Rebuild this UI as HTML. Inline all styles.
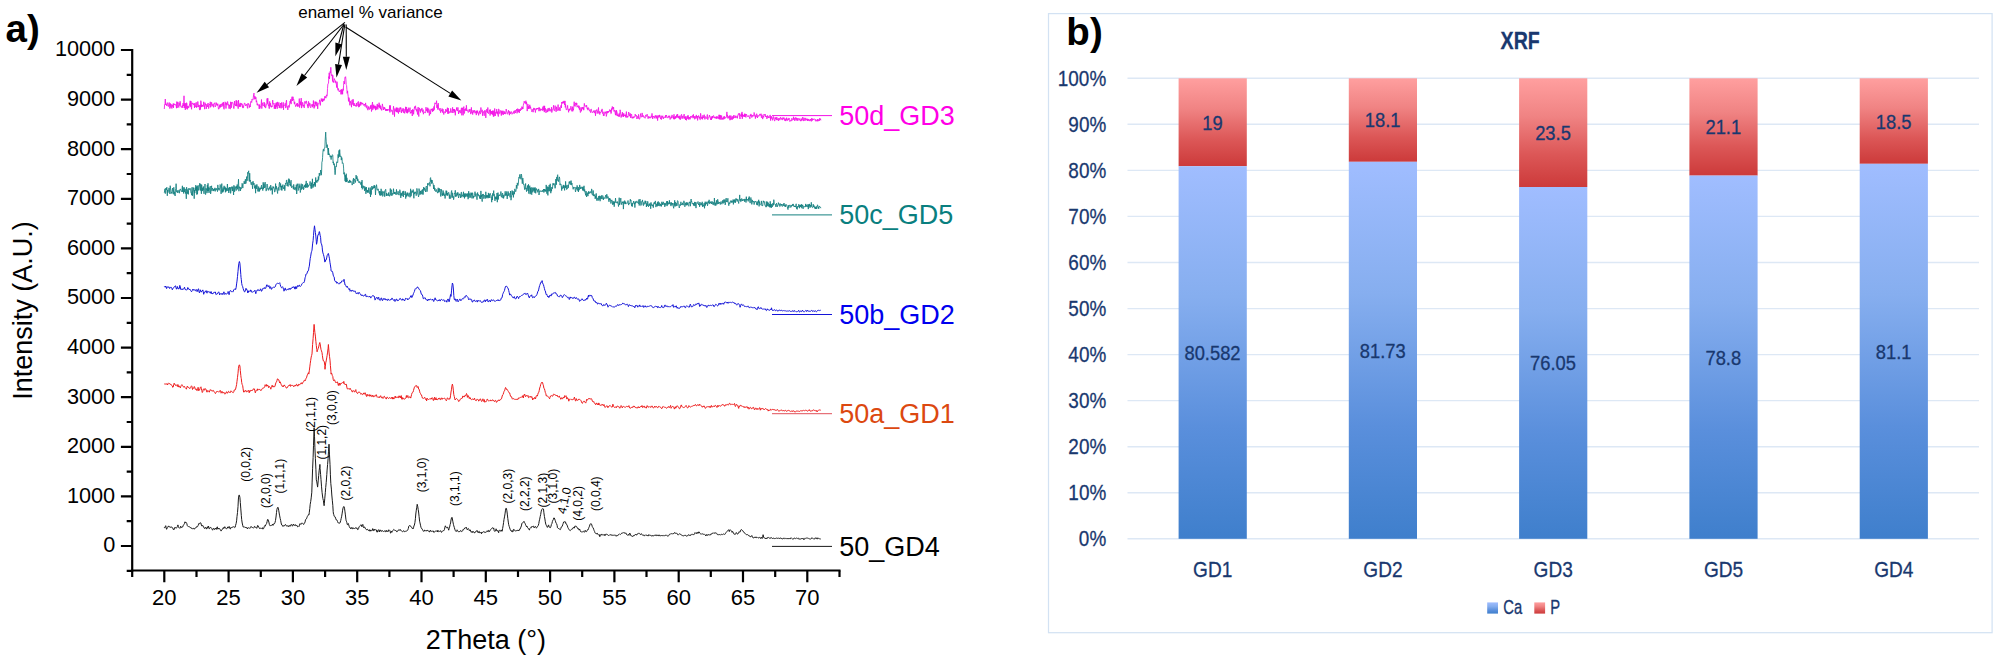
<!DOCTYPE html>
<html lang="en">
<head>
<meta charset="utf-8">
<title>XRD and XRF figure</title>
<style>html,body{margin:0;padding:0;background:#fff;}body{width:1998px;height:661px;overflow:hidden;}svg{display:block;}</style>
</head>
<body>
<svg width="1998" height="661" viewBox="0 0 1998 661" role="img" aria-label="XRD patterns and XRF composition chart">
<defs><linearGradient id="gb" x1="0" y1="0" x2="0" y2="1"><stop offset="0" stop-color="#a0bdff"/><stop offset="0.35" stop-color="#86aeef"/><stop offset="0.7" stop-color="#5a8fdc"/><stop offset="1" stop-color="#3f7fcc"/></linearGradient><linearGradient id="gr" x1="0" y1="0" x2="0" y2="1"><stop offset="0" stop-color="#ff9f9f"/><stop offset="0.35" stop-color="#f08383"/><stop offset="0.7" stop-color="#dc5757"/><stop offset="1" stop-color="#cc3a3a"/></linearGradient></defs>
<rect x="0" y="0" width="1998" height="661" fill="#ffffff"/>
<g id="panel-a" font-family="'Liberation Sans', Arial, sans-serif" fill="#000">
<text x="5.6" y="41.9" font-size="38.5" font-weight="bold">a)</text>
<g stroke="#000" stroke-width="2.2" fill="none" stroke-linecap="butt">
<path d="M132.2 49 V571.5"/>
<path d="M131.2 570.5 H840.5"/>
<path d="M132.2 570.8H126.7M132.2 546.0H120.9M132.2 521.2H126.7M132.2 496.4H120.9M132.2 471.6H126.7M132.2 446.8H120.9M132.2 422.0H126.7M132.2 397.2H120.9M132.2 372.4H126.7M132.2 347.6H120.9M132.2 322.8H126.7M132.2 298.0H120.9M132.2 273.2H126.7M132.2 248.4H120.9M132.2 223.6H126.7M132.2 198.8H120.9M132.2 174.0H126.7M132.2 149.2H120.9M132.2 124.4H126.7M132.2 99.6H120.9M132.2 74.8H126.7M132.2 50.0H120.9M132.2 570.5V576.9M164.3 570.5V582.3M196.5 570.5V576.9M228.6 570.5V582.3M260.8 570.5V576.9M292.9 570.5V582.3M325.1 570.5V576.9M357.2 570.5V582.3M389.4 570.5V576.9M421.5 570.5V582.3M453.6 570.5V576.9M485.8 570.5V582.3M518.0 570.5V576.9M550.1 570.5V582.3M582.2 570.5V576.9M614.4 570.5V582.3M646.5 570.5V576.9M678.7 570.5V582.3M710.8 570.5V576.9M743.0 570.5V582.3M775.2 570.5V576.9M807.3 570.5V582.3M839.5 570.5V576.9"/>
</g>
<g font-size="21.7" text-anchor="end">
<text x="115.2" y="552.4">0</text>
<text x="115.2" y="502.8">1000</text>
<text x="115.2" y="453.2">2000</text>
<text x="115.2" y="403.6">3000</text>
<text x="115.2" y="354.0">4000</text>
<text x="115.2" y="304.4">5000</text>
<text x="115.2" y="254.8">6000</text>
<text x="115.2" y="205.2">7000</text>
<text x="115.2" y="155.6">8000</text>
<text x="115.2" y="106.0">9000</text>
<text x="115.2" y="56.4">10000</text>
</g>
<g font-size="22" text-anchor="middle">
<text x="164.3" y="604.5">20</text>
<text x="228.6" y="604.5">25</text>
<text x="292.9" y="604.5">30</text>
<text x="357.2" y="604.5">35</text>
<text x="421.5" y="604.5">40</text>
<text x="485.8" y="604.5">45</text>
<text x="550.1" y="604.5">50</text>
<text x="614.4" y="604.5">55</text>
<text x="678.7" y="604.5">60</text>
<text x="743.0" y="604.5">65</text>
<text x="807.3" y="604.5">70</text>
</g>
<text transform="translate(31.7 310.5) rotate(-90)" font-size="27" text-anchor="middle">Intensity (A.U.)</text>
<text x="485.8" y="649.3" font-size="27" text-anchor="middle">2Theta (°)</text>
<text x="298.2" y="18" font-size="17">enamel % variance</text>
<path d="M344.9 22.4L266.9 84.6" stroke="#000" stroke-width="1.1" fill="none"/><path d="M256.6 92.8L264.7 81.8L269.1 87.3Z" fill="#000"/>
<path d="M344.2 24.0L304.5 75.5" stroke="#000" stroke-width="1.1" fill="none"/><path d="M296.4 85.9L301.7 73.3L307.2 77.6Z" fill="#000"/>
<path d="M343.8 24.5L338.8 43.5" stroke="#000" stroke-width="1.1" fill="none"/><path d="M335.4 56.3L335.4 42.6L342.2 44.4Z" fill="#000"/>
<path d="M344.8 24.5L338.5 64.5" stroke="#000" stroke-width="1.1" fill="none"/><path d="M336.5 77.5L335.1 63.9L342.0 65.0Z" fill="#000"/>
<path d="M346.2 24.5L346.3 56.8" stroke="#000" stroke-width="1.1" fill="none"/><path d="M346.3 70.0L342.8 56.8L349.8 56.8Z" fill="#000"/>
<path d="M345.6 27.0L450.3 93.4" stroke="#000" stroke-width="1.1" fill="none"/><path d="M461.4 100.5L448.4 96.4L452.1 90.5Z" fill="#000"/>
<g fill="none" stroke-linejoin="round" stroke-width="1">
<polyline stroke="#f312e6" stroke-width="0.85" points="164.3,109.0 164.6,104.3 165.0,103.9 165.3,99.0 165.6,105.0 165.9,104.3 166.3,103.8 166.6,105.7 166.9,106.0 167.3,102.6 167.6,103.0 167.9,103.9 168.2,106.6 168.6,106.3 168.9,104.6 169.2,102.5 169.6,106.7 169.9,108.6 170.2,105.0 170.5,103.5 170.9,107.5 171.2,104.3 171.5,106.7 171.9,108.5 172.2,106.5 172.5,105.2 172.8,106.7 173.2,103.6 173.5,107.9 173.8,103.7 174.2,104.6 174.5,103.9 174.8,104.6 175.1,104.2 175.5,105.2 175.8,105.2 176.1,105.3 176.5,108.2 176.8,101.6 177.1,108.0 177.4,104.5 177.8,101.9 178.1,104.7 178.4,105.3 178.8,107.5 179.1,102.7 179.4,105.6 179.7,105.3 180.1,101.3 180.4,102.4 180.7,106.4 181.0,106.6 181.4,107.5 181.7,106.3 182.0,106.0 182.4,105.4 182.7,107.8 183.0,103.2 183.3,104.8 183.7,106.0 184.0,95.8 184.3,108.0 184.7,103.3 185.0,104.9 185.3,109.9 185.6,103.2 186.0,103.9 186.3,108.6 186.6,102.7 187.0,104.1 187.3,109.4 187.6,106.1 187.9,106.4 188.3,105.9 188.6,108.1 188.9,107.4 189.3,106.4 189.6,103.6 189.9,103.5 190.2,100.8 190.6,106.7 190.9,101.0 191.2,107.1 191.6,109.3 191.9,102.7 192.2,103.6 192.5,104.1 192.9,103.1 193.2,103.2 193.5,104.8 193.9,104.0 194.2,104.6 194.5,108.0 194.8,103.0 195.2,105.3 195.5,105.7 195.8,107.1 196.2,102.3 196.5,107.6 196.8,106.1 197.1,107.1 197.5,105.3 197.8,101.5 198.1,103.7 198.5,107.0 198.8,105.2 199.1,105.0 199.4,109.1 199.8,110.1 200.1,105.1 200.4,109.5 200.8,100.7 201.1,102.0 201.4,107.1 201.7,104.6 202.1,106.5 202.4,106.3 202.7,105.0 203.1,106.7 203.4,105.5 203.7,101.8 204.0,105.7 204.4,105.6 204.7,109.2 205.0,102.7 205.4,105.2 205.7,104.2 206.0,104.9 206.3,108.9 206.7,106.0 207.0,104.2 207.3,105.5 207.7,106.9 208.0,103.0 208.3,104.6 208.6,108.6 209.0,107.1 209.3,105.1 209.6,104.1 209.9,104.9 210.3,101.8 210.6,107.3 210.9,106.0 211.3,105.5 211.6,102.3 211.9,103.6 212.2,106.3 212.6,105.8 212.9,104.1 213.2,105.1 213.6,107.3 213.9,103.7 214.2,104.0 214.5,103.6 214.9,102.7 215.2,107.0 215.5,106.3 215.9,106.0 216.2,102.6 216.5,102.9 216.8,105.1 217.2,104.3 217.5,105.5 217.8,103.7 218.2,106.7 218.5,109.2 218.8,108.6 219.1,108.8 219.5,105.4 219.8,107.3 220.1,104.4 220.5,107.3 220.8,104.4 221.1,104.2 221.4,103.8 221.8,106.8 222.1,105.9 222.4,105.7 222.8,102.8 223.1,105.6 223.4,102.1 223.7,108.5 224.1,109.3 224.4,105.7 224.7,105.0 225.1,101.8 225.4,102.3 225.7,105.2 226.0,108.5 226.4,102.8 226.7,103.7 227.0,105.2 227.4,101.6 227.7,101.6 228.0,104.4 228.3,105.2 228.7,104.4 229.0,108.6 229.3,104.9 229.7,106.1 230.0,108.8 230.3,109.0 230.6,101.8 231.0,104.5 231.3,107.8 231.6,102.3 232.0,103.3 232.3,102.4 232.6,102.3 232.9,102.8 233.3,105.7 233.6,108.0 233.9,108.6 234.3,105.3 234.6,101.0 234.9,105.1 235.2,104.5 235.6,106.0 235.9,105.0 236.2,100.2 236.6,106.2 236.9,100.8 237.2,103.8 237.5,105.9 237.9,106.0 238.2,108.7 238.5,100.1 238.9,106.0 239.2,106.8 239.5,104.5 239.8,106.6 240.2,102.9 240.5,106.7 240.8,106.4 241.1,103.1 241.5,103.8 241.8,104.8 242.1,103.8 242.5,107.5 242.8,105.6 243.1,108.1 243.4,107.8 243.8,105.3 244.1,104.8 244.4,103.1 244.8,103.4 245.1,103.4 245.4,105.9 245.7,105.2 246.1,105.3 246.4,105.5 246.7,104.0 247.1,104.6 247.4,108.1 247.7,108.4 248.0,103.2 248.4,104.4 248.7,103.9 249.0,103.9 249.4,107.6 249.7,105.5 250.0,106.3 250.3,107.0 250.7,101.6 251.0,101.5 251.3,101.2 251.7,102.5 252.0,99.2 252.3,99.9 252.6,100.2 253.0,99.5 253.3,97.5 253.6,94.7 254.0,93.1 254.3,99.3 254.6,98.5 254.9,96.2 255.3,98.0 255.6,99.0 255.9,97.3 256.3,102.2 256.6,100.7 256.9,102.4 257.2,105.1 257.6,103.7 257.9,105.4 258.2,105.4 258.6,104.7 258.9,104.9 259.2,108.9 259.5,104.6 259.9,108.5 260.2,106.4 260.5,106.7 260.9,105.5 261.2,103.6 261.5,99.5 261.8,108.6 262.2,102.7 262.5,103.2 262.8,105.5 263.2,105.4 263.5,105.8 263.8,104.7 264.1,102.1 264.5,107.1 264.8,103.4 265.1,105.8 265.5,108.0 265.8,107.8 266.1,104.8 266.4,104.7 266.8,104.8 267.1,98.5 267.4,103.7 267.8,98.2 268.1,102.9 268.4,105.7 268.7,104.7 269.1,108.7 269.4,108.5 269.7,101.4 270.0,105.6 270.4,103.2 270.7,106.5 271.0,105.7 271.4,107.3 271.7,106.0 272.0,107.0 272.3,104.7 272.7,100.1 273.0,102.9 273.3,103.6 273.7,104.3 274.0,103.2 274.3,108.8 274.6,105.0 275.0,108.1 275.3,104.7 275.6,108.9 276.0,102.8 276.3,106.7 276.6,102.6 276.9,106.3 277.3,108.7 277.6,101.9 277.9,103.5 278.3,105.9 278.6,105.0 278.9,102.5 279.2,107.8 279.6,105.5 279.9,108.1 280.2,106.1 280.6,103.0 280.9,104.4 281.2,108.3 281.5,102.5 281.9,104.4 282.2,106.6 282.5,107.5 282.9,107.1 283.2,102.3 283.5,109.8 283.8,105.0 284.2,105.4 284.5,105.4 284.8,104.9 285.2,103.3 285.5,104.6 285.8,108.1 286.1,102.5 286.5,100.2 286.8,106.4 287.1,106.0 287.5,106.8 287.8,109.9 288.1,107.4 288.4,105.5 288.8,106.1 289.1,107.5 289.4,106.9 289.8,102.7 290.1,101.1 290.4,102.9 290.7,99.3 291.1,104.1 291.4,99.9 291.7,98.9 292.1,96.7 292.4,101.0 292.7,98.1 293.0,96.8 293.4,99.6 293.7,99.0 294.0,101.5 294.4,104.1 294.7,101.8 295.0,104.3 295.3,104.8 295.7,106.7 296.0,105.9 296.3,105.0 296.7,103.7 297.0,105.7 297.3,103.0 297.6,106.6 298.0,105.4 298.3,106.4 298.6,104.2 299.0,103.6 299.3,98.6 299.6,107.6 299.9,104.9 300.3,104.8 300.6,101.6 300.9,105.2 301.2,98.1 301.6,108.1 301.9,104.8 302.2,105.4 302.6,102.3 302.9,103.0 303.2,106.5 303.5,104.9 303.9,106.2 304.2,107.9 304.5,106.6 304.9,101.3 305.2,103.0 305.5,102.9 305.8,103.4 306.2,100.9 306.5,101.0 306.8,103.7 307.2,104.0 307.5,106.3 307.8,104.5 308.1,108.1 308.5,101.4 308.8,102.3 309.1,105.7 309.5,104.6 309.8,103.1 310.1,106.7 310.4,107.4 310.8,107.8 311.1,104.3 311.4,105.1 311.8,105.6 312.1,105.2 312.4,107.2 312.7,104.1 313.1,105.8 313.4,100.5 313.7,106.6 314.1,108.4 314.4,105.0 314.7,107.2 315.0,101.6 315.4,104.3 315.7,101.8 316.0,105.6 316.3,106.1 316.7,101.9 317.0,102.7 317.3,103.0 317.7,108.9 318.0,103.6 318.3,103.7 318.7,104.0 319.0,103.6 319.3,102.3 319.6,99.8 320.0,100.9 320.3,105.4 320.6,102.3 321.0,100.8 321.3,98.5 321.6,101.0 321.9,100.9 322.4,99.1 322.6,102.0 322.9,98.6 323.3,99.0 323.6,100.6 323.9,98.9 324.2,100.3 324.6,97.1 324.9,96.2 325.2,97.6 325.6,96.7 325.9,98.2 326.2,96.2 326.5,94.8 326.9,96.3 327.2,95.3 327.5,88.5 327.9,83.8 328.2,83.5 328.5,83.4 328.8,76.6 329.0,78.2 329.2,72.8 329.5,79.0 329.8,75.3 330.1,71.5 330.6,72.8 330.8,67.3 331.1,73.1 331.5,74.9 331.8,75.9 332.1,74.6 332.6,81.3 332.8,75.3 333.1,82.2 333.4,81.0 333.8,82.6 334.1,80.2 334.4,78.6 334.7,80.0 335.1,80.2 335.4,82.6 335.7,80.9 336.1,83.5 336.4,84.6 336.7,87.6 337.0,81.7 337.4,85.9 337.7,89.2 338.1,90.4 338.4,88.5 338.7,89.8 339.0,90.9 339.3,92.0 339.7,91.4 339.9,91.7 340.3,90.2 340.7,91.2 341.0,94.4 341.3,89.2 341.6,92.6 342.0,94.2 342.3,90.2 342.6,94.2 342.9,88.8 343.3,90.4 343.6,85.2 343.9,81.2 344.3,82.0 344.6,84.0 344.9,77.3 345.3,77.5 345.6,76.7 345.9,79.3 346.2,84.5 346.6,85.6 346.9,89.5 347.2,93.4 347.6,90.9 347.8,93.7 348.2,96.4 348.5,101.4 348.9,97.6 349.2,98.2 349.5,101.0 349.9,105.3 350.2,100.9 350.5,102.9 350.8,102.5 351.2,104.1 351.5,107.2 351.8,100.5 352.2,99.8 352.5,103.6 352.8,104.6 353.1,99.2 353.5,102.6 353.8,105.9 354.1,103.1 354.5,105.3 354.8,104.9 355.0,106.0 355.4,105.4 355.8,104.9 356.1,106.7 356.4,103.0 356.8,104.2 357.1,106.1 357.4,102.6 357.7,102.8 358.1,101.9 358.4,101.4 358.7,107.2 359.1,104.0 359.4,106.6 359.7,104.2 360.0,102.8 360.4,101.9 360.7,105.5 361.1,102.1 361.3,104.2 361.7,103.5 362.0,103.3 362.3,104.2 362.7,103.0 363.0,103.3 363.3,105.1 363.6,105.4 364.0,104.4 364.3,104.8 364.6,104.0 365.0,106.5 365.3,105.5 365.6,102.9 365.9,105.6 366.3,107.7 366.6,107.3 366.9,105.3 367.1,108.6 367.3,108.4 367.6,108.4 367.9,110.2 368.2,106.5 368.6,108.4 368.9,106.7 369.2,109.2 369.6,109.5 369.9,108.2 370.2,108.7 370.5,105.6 370.9,108.5 371.2,104.9 371.5,111.5 371.9,109.5 372.2,104.2 372.5,102.0 372.8,109.8 373.2,105.6 373.5,108.3 373.8,104.7 374.2,107.4 374.5,106.0 374.8,108.5 375.1,106.6 375.5,110.2 375.8,105.8 376.1,109.8 376.5,107.3 376.8,108.4 377.1,104.2 377.4,103.9 377.8,109.4 378.1,105.0 378.4,106.7 378.8,106.8 379.1,102.7 379.4,107.8 379.7,104.6 380.1,105.1 380.4,109.2 380.7,105.9 381.1,108.9 381.4,108.8 381.7,110.4 382.0,108.4 382.4,103.9 382.7,106.2 383.0,106.7 383.4,110.0 383.7,108.5 384.0,107.0 384.3,108.9 384.7,107.5 385.0,109.4 385.3,108.8 385.7,110.8 386.0,109.4 386.3,110.8 386.6,109.0 387.0,110.5 387.3,109.0 387.6,110.7 388.0,110.0 388.3,109.4 388.6,109.0 389.0,109.5 389.3,110.9 389.6,105.5 389.9,112.4 390.3,105.4 390.6,109.7 390.9,109.4 391.2,111.5 391.6,110.5 391.9,110.0 392.2,110.3 392.5,112.0 392.9,114.7 393.2,110.9 393.5,106.2 393.9,109.4 394.2,111.0 394.5,116.6 394.8,108.7 395.2,109.5 395.5,111.3 395.8,110.9 396.2,107.7 396.5,112.1 396.8,107.7 397.1,109.8 397.5,112.3 397.8,107.8 398.1,109.7 398.5,113.6 398.8,109.9 399.1,108.4 399.4,109.3 399.8,112.0 400.1,107.4 400.4,109.2 400.8,107.6 401.1,108.2 401.4,113.0 401.7,110.3 402.1,109.7 402.4,111.3 402.7,109.2 403.1,108.2 403.4,112.8 403.7,112.3 404.0,108.9 404.4,112.0 404.7,113.4 405.0,111.6 405.4,111.6 405.7,106.8 406.0,110.4 406.3,107.1 406.7,112.8 407.0,110.4 407.3,113.3 407.7,109.2 408.0,112.4 408.3,107.7 408.6,108.2 409.0,111.8 409.3,111.5 409.6,110.7 410.0,107.6 410.3,113.4 410.6,112.1 410.9,113.0 411.3,113.0 411.6,110.1 411.9,111.6 412.3,116.0 412.6,109.3 412.9,111.7 413.2,109.9 413.6,114.3 413.9,111.3 414.2,109.0 414.6,106.7 414.9,108.3 415.2,106.6 415.5,105.8 415.9,109.6 416.2,108.9 416.5,111.3 416.9,109.5 417.2,111.5 417.5,114.5 417.8,108.8 418.2,107.1 418.5,113.0 418.8,116.5 419.0,109.5 419.5,107.9 419.8,110.6 420.1,110.4 420.5,112.5 420.8,109.1 421.1,110.7 421.4,110.1 421.8,108.1 422.1,108.1 422.4,112.0 422.8,112.2 423.1,109.6 423.4,114.2 423.7,113.0 424.1,112.1 424.4,112.3 424.7,111.8 425.1,112.6 425.4,112.8 425.7,111.3 426.0,107.2 426.4,110.8 426.7,109.5 427.0,108.9 427.4,112.3 427.7,107.7 428.0,112.7 428.3,109.9 428.7,108.7 429.0,109.4 429.3,115.5 429.7,113.8 430.0,110.4 430.3,112.9 430.6,114.1 431.0,108.9 431.3,109.8 431.6,109.2 432.0,110.5 432.3,108.5 432.6,111.8 432.9,109.0 433.3,108.7 433.6,111.0 433.9,106.5 434.3,109.7 434.6,104.4 434.9,102.8 435.2,102.9 435.6,104.1 435.9,103.8 436.2,103.6 436.6,100.7 436.9,107.9 437.2,104.7 437.5,107.5 437.9,109.7 438.2,103.1 438.5,108.2 438.9,108.2 439.2,109.4 439.5,110.4 439.8,108.7 440.2,108.1 440.5,112.7 440.8,112.4 441.2,110.2 441.5,110.9 441.8,109.9 442.1,108.5 442.5,112.5 442.8,110.0 443.1,109.2 443.5,113.1 443.8,114.5 444.1,112.2 444.4,111.9 444.8,111.6 445.1,113.1 445.4,112.9 445.8,109.0 446.1,111.0 446.4,110.3 446.7,111.9 447.1,111.4 447.4,107.7 447.7,113.7 448.1,112.0 448.4,108.2 448.7,113.7 449.0,111.8 449.4,112.5 449.7,111.6 450.0,111.9 450.4,112.5 450.7,108.4 451.0,110.0 451.3,111.9 451.7,111.7 452.0,112.8 452.3,111.4 452.6,107.3 453.0,113.0 453.3,110.1 453.6,109.1 454.0,111.0 454.3,109.0 454.6,112.3 454.9,109.8 455.3,115.3 455.6,111.1 455.9,110.5 456.3,110.4 456.6,107.5 456.9,110.0 457.2,110.2 457.6,111.0 457.9,107.4 458.2,110.5 458.6,114.0 458.9,110.7 459.2,111.4 459.5,112.3 459.9,110.0 460.2,110.6 460.5,113.2 460.9,112.8 461.2,108.9 461.5,107.8 461.8,115.3 462.2,111.7 462.5,107.8 462.8,110.9 463.2,115.3 463.5,110.5 463.8,106.6 464.1,113.3 464.5,113.4 464.8,109.1 465.1,110.6 465.5,108.8 465.8,108.4 466.1,110.7 466.4,105.3 466.8,110.9 467.1,109.8 467.4,110.6 467.8,111.0 468.1,112.4 468.4,112.4 468.7,111.6 469.1,109.4 469.4,111.6 469.7,109.7 470.1,109.0 470.4,111.8 470.7,114.1 471.0,113.5 471.4,107.4 471.7,112.6 472.0,112.9 472.4,111.9 472.7,114.6 473.0,110.2 473.3,112.5 473.7,111.3 474.0,112.0 474.3,110.2 474.7,111.8 475.0,113.3 475.3,112.3 475.6,112.8 476.0,110.7 476.3,115.1 476.6,110.9 477.0,112.2 477.3,113.3 477.6,110.6 477.9,112.7 478.3,112.6 478.6,115.4 478.9,113.2 479.3,113.0 479.6,110.8 479.9,112.8 480.2,114.1 480.6,113.0 480.9,107.5 481.2,111.3 481.5,111.9 481.9,112.3 482.2,109.8 482.5,115.7 482.9,112.1 483.2,112.5 483.5,111.5 483.8,112.2 484.2,115.8 484.5,110.6 484.8,111.4 485.2,110.4 485.5,111.3 485.8,117.9 486.1,111.2 486.5,111.5 486.8,109.1 487.1,111.7 487.5,112.8 487.8,107.5 488.1,111.7 488.4,113.8 488.8,113.4 489.1,112.2 489.4,111.0 489.8,109.7 490.1,115.5 490.4,109.6 490.7,113.6 491.1,112.1 491.4,111.1 491.7,114.1 492.1,111.1 492.4,114.7 492.7,110.6 493.0,113.4 493.4,116.6 493.7,110.7 494.0,116.3 494.4,114.0 494.7,108.5 495.0,115.0 495.3,116.0 495.7,112.1 496.0,112.2 496.3,113.2 496.7,109.1 497.0,112.8 497.3,114.2 497.6,111.6 498.0,114.7 498.3,116.5 498.6,109.0 499.0,109.3 499.3,111.3 499.6,113.7 500.0,113.3 500.3,110.9 500.6,110.5 500.9,111.2 501.3,115.6 501.6,110.8 501.9,111.4 502.2,114.2 502.6,112.0 502.9,110.7 503.2,115.0 503.6,113.0 503.9,111.2 504.2,111.7 504.5,114.0 504.9,111.7 505.2,112.8 505.5,113.9 505.9,114.1 506.2,109.0 506.5,111.4 506.8,111.6 507.2,112.4 507.5,113.6 507.8,114.3 508.2,111.4 508.5,110.2 508.8,112.5 509.1,111.1 509.5,115.2 509.8,112.0 510.1,112.2 510.5,113.8 510.8,112.2 511.1,111.4 511.4,111.7 511.8,113.1 512.0,114.3 512.4,113.3 512.7,113.2 513.1,112.3 513.4,112.5 513.7,111.4 514.1,113.8 514.4,110.6 514.7,111.6 515.0,112.1 515.4,113.0 515.7,110.3 516.0,111.1 516.4,110.0 516.7,109.1 517.0,113.3 517.3,112.1 517.7,108.6 518.0,109.5 518.3,112.1 518.7,109.9 519.0,109.0 519.3,112.9 519.6,109.7 520.0,109.7 520.3,111.0 520.6,108.5 521.0,109.4 521.3,109.2 521.6,109.7 521.9,106.6 522.3,109.1 522.6,107.2 522.9,109.0 523.3,105.5 523.6,103.5 523.9,102.8 524.2,101.2 524.6,102.6 524.9,102.1 525.2,103.6 525.6,102.2 525.9,100.7 526.2,104.3 526.5,102.1 526.9,103.9 527.2,111.1 527.5,106.9 527.9,104.1 528.2,105.8 528.5,109.0 528.8,106.2 529.2,108.7 529.5,106.4 529.8,104.8 530.2,108.4 530.5,106.7 530.8,108.3 531.1,108.9 531.5,110.5 531.8,111.8 532.1,111.2 532.5,110.4 532.8,109.3 533.1,112.2 533.4,110.4 533.8,107.9 534.1,109.8 534.4,109.6 534.8,108.2 535.1,110.3 535.4,112.5 535.7,109.4 536.1,109.8 536.4,109.8 536.7,108.1 537.1,109.0 537.4,108.0 537.7,109.2 538.0,108.3 538.4,107.7 538.7,109.5 539.0,111.2 539.4,107.5 539.7,109.7 540.0,110.7 540.3,110.9 540.7,108.7 541.0,109.6 541.3,109.9 541.6,109.2 542.0,109.0 542.3,110.7 542.6,107.7 543.0,106.6 543.3,108.9 543.6,110.3 543.9,105.8 544.3,112.1 544.6,105.9 544.9,110.8 545.3,108.3 545.6,109.7 545.9,112.9 546.2,112.4 546.6,110.9 546.9,109.3 547.2,109.6 547.6,112.1 547.9,108.6 548.2,108.2 548.5,109.5 548.9,111.3 549.2,107.9 549.5,110.4 549.9,110.4 550.2,110.0 550.5,109.5 550.8,111.3 551.2,110.7 551.5,107.2 551.8,112.5 552.2,110.5 552.5,110.3 552.8,109.1 553.1,109.2 553.5,105.3 553.8,109.3 554.1,110.7 554.5,110.7 554.8,108.5 555.1,105.6 555.4,107.7 555.8,109.0 556.1,111.8 556.4,106.8 556.8,109.6 557.1,110.5 557.4,110.5 557.7,109.3 558.1,104.6 558.4,110.4 558.7,109.5 559.1,110.1 559.4,107.4 559.7,107.9 560.0,111.0 560.4,107.8 560.7,107.4 561.0,105.4 561.4,108.0 561.7,102.0 562.0,102.9 562.3,103.5 562.7,101.8 563.0,102.7 563.3,101.5 563.7,103.3 564.0,100.9 564.3,101.8 564.6,105.0 565.0,100.9 565.3,107.4 565.6,104.4 566.0,108.7 566.3,109.9 566.6,109.8 566.9,108.8 567.3,107.7 567.6,105.4 567.9,109.7 568.3,110.3 568.6,112.3 568.9,108.9 569.2,110.5 569.6,108.8 569.9,110.2 570.2,108.9 570.6,109.1 570.9,106.2 571.2,108.1 571.5,109.0 571.9,111.3 572.2,109.5 572.5,106.7 572.8,111.3 573.2,108.9 573.5,109.9 573.8,106.1 574.2,101.7 574.5,105.6 574.8,104.7 575.1,106.5 575.5,103.0 575.8,103.7 576.1,102.7 576.5,105.1 576.8,103.2 577.0,107.2 577.4,106.5 577.8,106.9 578.1,105.5 578.4,106.7 578.8,108.2 579.1,105.8 579.4,109.7 579.7,107.9 580.1,110.5 580.4,112.5 580.7,111.5 581.1,107.2 581.4,111.2 581.7,108.7 582.0,108.5 582.4,108.7 582.7,107.0 583.0,109.2 583.4,107.4 583.7,110.2 584.0,108.6 584.3,103.4 584.7,105.8 585.0,105.5 585.3,105.8 585.7,105.7 586.0,107.1 586.3,106.6 586.6,105.2 587.0,108.0 587.3,109.1 587.6,107.9 588.0,110.2 588.3,107.6 588.6,108.1 588.9,108.7 589.3,109.7 589.6,110.9 589.9,110.5 590.3,112.1 590.6,112.6 590.9,109.2 591.2,109.0 591.6,110.9 591.9,111.9 592.2,112.8 592.6,112.4 592.9,112.4 593.2,111.6 593.5,112.1 593.9,110.5 594.2,112.3 594.5,113.1 594.9,110.6 595.2,111.3 595.5,115.8 595.8,110.6 596.2,111.0 596.5,110.1 596.8,109.5 597.2,113.6 597.5,110.9 597.8,111.0 598.1,110.7 598.5,107.5 598.8,113.4 599.1,111.2 599.5,112.1 599.8,114.5 600.1,112.0 600.4,112.5 600.8,112.6 601.1,111.8 601.4,110.2 601.7,111.5 602.1,108.9 602.4,112.5 602.7,113.6 603.1,111.8 603.4,115.8 603.7,114.2 604.0,115.8 604.4,112.9 604.7,113.2 605.0,111.7 605.4,113.2 605.7,113.2 606.0,111.8 606.3,116.4 606.7,114.5 607.0,111.1 607.3,113.2 607.7,112.1 608.0,111.0 608.3,112.6 608.6,111.1 609.0,111.5 609.3,111.4 609.6,109.7 610.0,109.6 610.3,111.6 610.6,110.1 610.9,113.7 611.3,113.3 611.6,108.5 611.9,110.2 612.3,106.5 612.6,108.9 612.9,108.7 613.2,109.1 613.6,107.1 613.9,111.4 614.2,111.5 614.6,110.2 615.0,111.8 615.2,113.6 615.5,115.0 615.9,110.5 616.2,115.5 616.5,110.3 616.9,112.0 617.2,112.8 617.5,116.1 617.8,114.7 618.2,114.8 618.5,116.5 618.8,114.4 619.2,113.4 619.5,116.6 619.8,113.9 620.1,109.8 620.5,111.6 620.8,114.7 621.1,117.5 621.5,115.7 621.8,114.6 622.1,116.5 622.4,112.2 622.8,115.4 623.1,113.8 623.4,117.0 623.8,113.4 624.1,116.1 624.4,115.2 624.7,114.9 625.1,116.0 625.4,114.7 625.7,117.3 626.1,114.7 626.4,111.6 626.7,117.4 627.0,117.3 627.4,116.0 627.7,117.4 628.0,117.0 628.4,113.9 628.7,112.0 629.0,113.7 629.3,114.9 629.7,116.2 630.0,113.2 630.3,114.0 630.7,117.9 631.0,114.4 631.3,114.4 631.6,114.1 632.0,118.2 632.3,116.9 632.6,117.1 632.9,118.4 633.3,117.3 633.6,118.0 633.9,116.4 634.3,117.3 634.6,116.9 634.9,117.1 635.2,114.1 635.6,115.7 635.9,115.5 636.2,115.0 636.6,116.0 636.9,119.0 637.2,117.7 637.5,116.4 637.9,116.8 638.2,118.5 638.5,114.4 638.9,117.0 639.2,119.0 639.5,119.3 640.0,117.9 640.2,117.3 640.5,113.6 640.8,115.3 641.2,116.4 641.5,117.1 641.8,117.1 642.1,112.9 642.5,115.6 642.8,116.9 643.1,115.3 643.5,116.1 643.8,117.3 644.1,117.0 644.4,116.8 644.8,117.7 645.1,118.3 645.4,116.1 645.8,114.9 646.1,115.4 646.4,115.8 646.7,116.5 647.1,114.2 647.4,115.3 647.7,116.2 648.1,118.7 648.4,117.4 648.7,116.3 649.0,118.0 649.4,116.9 649.7,116.9 650.0,118.3 650.4,117.1 650.7,116.8 651.0,117.7 651.3,115.8 651.7,116.7 652.0,113.4 652.3,116.0 652.7,119.0 653.0,116.1 653.3,116.6 653.6,116.0 654.0,117.6 654.3,117.4 654.6,116.6 655.0,118.4 655.3,115.3 655.6,116.7 655.9,116.2 656.3,115.8 656.6,118.4 656.9,115.6 657.3,115.6 657.6,120.6 657.9,116.6 658.2,116.4 658.6,117.4 658.9,115.2 659.2,117.3 659.6,114.9 659.9,116.0 660.2,115.9 660.5,118.8 660.9,117.7 661.2,119.6 661.5,119.4 661.8,115.7 662.2,117.6 662.5,116.1 662.8,115.8 663.2,118.6 663.5,119.0 663.8,117.0 664.1,117.3 664.5,117.3 664.8,117.3 665.1,117.4 665.5,115.3 665.8,117.8 666.1,115.8 666.4,115.0 666.8,116.6 667.1,117.3 667.4,118.1 667.8,117.4 668.1,117.3 668.4,115.8 668.7,117.5 669.1,117.2 669.4,117.3 669.7,115.7 670.1,119.5 670.4,118.0 670.7,117.9 671.0,117.0 671.4,116.5 671.7,118.3 672.0,114.9 672.4,116.2 672.7,116.5 673.0,117.8 673.3,116.4 673.7,119.1 674.0,114.3 674.3,119.3 674.7,117.4 675.0,118.4 675.3,116.2 675.6,118.5 676.0,116.5 676.3,117.3 676.6,114.7 677.0,117.8 677.3,117.2 677.6,114.1 677.9,116.8 678.3,116.5 678.6,118.2 678.9,116.0 679.3,117.3 679.6,118.9 679.9,115.7 680.2,119.8 680.6,117.4 680.9,116.7 681.2,114.9 681.6,114.3 681.9,118.5 682.2,116.3 682.5,116.1 682.9,118.6 683.2,118.1 683.5,117.2 683.9,114.8 684.2,114.1 684.5,118.5 684.8,117.0 685.2,116.7 685.5,120.0 685.8,116.4 686.2,117.6 686.5,120.3 686.8,118.0 687.1,116.3 687.5,115.8 687.8,118.9 688.1,115.3 688.5,118.4 688.8,119.6 689.1,117.0 689.4,118.4 689.8,117.3 690.1,119.3 690.4,117.6 690.8,116.1 691.1,117.7 691.4,117.4 691.7,116.3 692.1,116.8 692.4,115.4 692.7,115.9 693.0,118.2 693.4,114.4 693.7,117.6 694.0,117.2 694.4,116.3 694.7,119.3 695.0,118.3 695.3,116.3 695.7,117.5 696.0,118.6 696.3,114.9 696.7,117.6 697.0,116.9 697.3,116.0 697.6,120.4 698.0,116.3 698.3,116.8 698.6,115.5 699.0,117.6 699.3,118.2 699.6,116.8 699.9,119.5 700.3,119.7 700.6,113.3 700.9,115.1 701.3,118.0 701.6,117.5 701.9,119.1 702.2,116.9 702.6,119.3 702.9,115.3 703.2,118.0 703.6,116.7 703.9,116.7 704.2,114.7 704.5,116.8 704.9,119.4 705.2,116.4 705.5,117.1 705.9,117.6 706.2,118.6 706.5,117.8 706.8,118.2 707.2,114.5 707.5,114.7 707.8,119.7 708.2,117.5 708.5,117.4 708.8,117.1 709.1,116.6 709.5,115.0 709.8,117.4 710.1,117.7 710.5,118.9 710.8,119.9 711.1,116.4 711.4,119.9 711.8,117.6 712.1,118.4 712.4,116.0 712.8,118.0 713.1,116.1 713.4,115.5 713.7,115.7 714.1,117.6 714.4,116.9 714.7,118.1 715.1,117.9 715.4,117.8 715.7,116.8 716.0,118.8 716.4,118.4 716.7,116.4 717.0,118.7 717.4,116.6 717.7,117.7 718.0,117.4 718.3,117.4 718.7,118.7 719.0,114.8 719.3,119.3 719.7,114.9 720.0,119.2 720.3,118.2 720.6,115.2 721.0,119.8 721.3,116.9 721.6,115.6 721.9,119.1 722.3,118.9 722.6,117.9 722.9,119.7 723.3,117.5 723.6,116.9 723.9,119.2 724.2,116.1 724.6,118.4 724.9,118.8 725.2,117.5 725.6,117.3 725.9,117.8 726.2,117.5 726.5,116.1 726.9,111.9 727.2,116.3 727.5,114.9 727.9,118.4 728.2,116.3 728.5,117.3 728.8,118.1 729.2,118.4 729.5,115.6 729.8,120.1 730.2,120.1 730.5,117.8 730.8,115.5 731.1,119.8 731.5,117.8 731.8,118.4 732.1,116.3 732.5,119.5 732.8,118.9 733.1,116.6 733.4,118.5 733.8,115.1 734.1,117.9 734.4,117.6 734.8,117.6 735.1,115.6 735.4,116.0 735.7,117.9 736.1,118.0 736.4,116.4 736.7,116.1 737.1,115.7 737.4,118.3 737.7,116.1 738.0,115.5 738.4,113.6 738.7,113.7 739.0,114.6 739.4,113.3 739.7,117.1 740.0,119.0 740.3,114.7 740.7,115.5 741.0,115.9 741.3,113.5 741.7,116.8 742.0,111.9 742.3,118.8 742.6,113.9 743.0,116.0 743.3,115.4 743.6,116.5 744.0,114.9 744.3,116.7 744.6,113.7 744.9,117.0 745.3,113.9 745.6,116.4 745.9,117.4 746.3,114.2 746.6,115.0 746.9,114.8 747.2,115.7 747.6,116.1 747.9,116.9 748.2,116.1 748.6,115.6 748.9,116.6 749.2,117.3 749.5,117.2 749.9,118.8 750.2,114.9 750.5,116.1 750.9,113.9 751.2,114.8 751.5,116.6 751.8,117.5 752.2,115.0 752.5,116.4 752.8,115.8 753.1,116.4 753.5,116.0 753.8,115.0 754.1,112.5 754.5,113.6 754.8,116.2 755.1,115.5 755.4,118.6 755.8,115.7 756.1,116.9 756.4,114.0 756.8,113.7 757.1,115.9 757.4,118.0 757.7,116.2 758.1,115.2 758.4,116.2 758.7,116.5 759.1,116.2 759.4,115.6 759.7,114.1 760.0,114.0 760.4,114.8 760.7,115.4 761.0,113.7 761.4,117.7 761.7,116.3 762.0,114.8 762.3,116.7 762.7,119.1 763.0,116.1 763.3,116.2 763.7,117.4 764.0,114.2 764.3,115.3 764.6,115.1 765.0,114.4 765.3,114.1 765.6,116.9 766.0,115.9 766.3,116.3 766.6,116.0 766.9,118.9 767.3,115.7 767.6,115.4 767.9,117.5 768.3,116.4 768.6,118.0 768.9,117.3 769.2,117.5 769.6,117.6 769.9,115.3 770.2,114.9 770.6,120.6 770.9,116.3 771.2,118.7 771.5,116.5 771.9,118.0 772.2,118.2 772.5,120.3 772.9,118.1 773.2,116.4 773.5,116.6 773.8,119.1 774.2,119.7 774.5,120.9 774.8,121.1 775.0,117.5 775.5,118.9 775.8,117.5 776.1,119.9 776.5,119.9 776.8,117.1 777.1,119.9 777.5,119.8 777.8,118.8 778.1,118.4 778.4,120.8 778.8,118.9 779.1,118.0 779.4,119.2 779.8,120.2 780.1,119.8 780.4,117.1 780.7,117.7 781.1,118.7 781.4,119.3 781.7,119.3 782.0,117.9 782.4,120.1 782.7,119.6 783.0,117.5 783.4,118.2 783.7,119.1 784.0,117.6 784.3,119.2 784.7,120.6 785.0,118.8 785.3,119.8 785.7,121.1 786.0,118.6 786.3,119.7 786.6,117.7 787.0,120.8 787.3,120.6 787.6,119.3 788.0,118.6 788.3,120.1 788.6,119.2 788.9,118.0 789.3,118.3 789.6,119.1 789.9,121.6 790.3,120.5 790.6,120.8 790.9,120.3 791.2,120.8 791.6,120.9 791.9,118.2 792.2,120.0 792.6,120.0 792.9,119.9 793.2,119.8 793.5,116.8 793.9,119.6 794.2,117.9 794.5,120.4 794.9,121.0 795.2,119.2 795.5,119.4 795.8,117.3 796.2,119.3 796.5,118.2 796.8,120.5 797.2,118.9 797.5,118.3 797.8,120.8 798.1,119.2 798.5,118.5 798.8,119.4 799.1,119.3 799.5,119.8 799.8,118.5 800.1,120.6 800.4,119.9 800.8,121.2 801.1,120.1 801.4,118.6 801.8,120.7 802.1,119.3 802.4,119.7 802.7,117.1 803.1,118.3 803.4,121.0 803.7,120.8 804.1,117.8 804.4,119.7 804.7,120.0 805.0,120.9 805.4,118.5 805.7,117.9 806.0,120.0 806.4,119.0 806.7,119.1 807.0,118.8 807.3,121.0 807.7,118.8 808.0,120.7 808.3,120.4 808.7,119.1 809.0,120.7 809.3,121.1 809.6,120.1 810.0,119.5 810.3,120.6 810.6,119.0 811.0,120.3 811.3,121.4 811.6,118.4 811.9,118.0 812.3,120.6 812.6,118.9 812.9,119.4 813.2,120.0 813.6,119.2 813.9,118.8 814.2,118.8 814.6,119.3 814.9,119.8 815.2,120.4 815.5,119.5 815.9,121.3 816.2,120.5 816.5,120.4 816.9,119.8 817.2,121.3 817.5,119.1 817.8,121.0 818.2,121.0 818.5,120.9 818.8,119.4 819.2,121.0 819.5,118.3 819.8,118.8 820.1,119.7 820.5,118.7 820.8,120.4"/>
<polyline stroke="#14807f" stroke-width="0.85" points="164.3,192.8 164.6,191.0 165.0,188.8 165.3,193.6 165.6,192.9 165.9,188.0 166.3,189.9 166.6,187.8 166.9,187.2 167.3,195.8 167.6,189.9 167.9,192.7 168.2,191.7 168.6,191.0 168.9,187.9 169.2,188.0 169.6,192.0 169.9,193.9 170.2,185.7 170.5,188.2 170.9,190.2 171.2,193.6 171.5,192.2 171.9,192.9 172.2,191.3 172.5,188.1 172.8,189.9 173.2,194.1 173.5,191.1 173.8,187.3 174.2,194.5 174.5,191.8 174.8,192.6 175.1,196.0 175.5,189.1 175.8,188.7 176.1,183.7 176.5,190.9 176.8,192.2 177.1,190.4 177.4,190.5 177.8,193.0 178.1,191.6 178.4,191.6 178.8,190.2 179.1,190.3 179.4,193.2 179.7,190.1 180.1,189.2 180.4,188.9 180.7,190.0 181.0,190.9 181.4,191.7 181.7,190.7 182.0,189.4 182.4,185.8 182.7,192.0 183.0,187.6 183.3,189.8 183.7,193.5 184.0,187.2 184.3,188.0 184.7,192.1 185.0,189.4 185.3,188.9 185.6,193.5 186.0,192.0 186.3,198.8 186.6,187.2 187.0,190.1 187.3,191.3 187.6,193.7 187.9,189.4 188.3,194.4 188.6,190.5 188.9,188.1 189.3,189.6 189.6,190.0 189.9,189.7 190.2,188.4 190.6,189.5 190.9,192.7 191.2,192.4 191.6,195.2 191.9,187.8 192.2,187.2 192.5,195.7 192.9,191.0 193.2,191.1 193.5,187.6 193.9,191.0 194.2,198.7 194.5,190.0 194.8,193.1 195.2,187.7 195.5,190.3 195.8,185.1 196.2,191.0 196.5,186.8 196.8,194.6 197.1,186.1 197.5,194.1 197.8,187.5 198.1,185.3 198.5,190.3 198.8,190.3 199.1,187.1 199.4,186.2 199.8,183.2 200.1,188.7 200.4,190.5 200.8,184.1 201.1,189.9 201.4,193.8 201.7,184.8 202.1,191.0 202.4,191.0 202.7,187.8 203.0,190.3 203.4,186.5 203.7,190.7 204.0,193.8 204.4,188.5 204.7,187.8 205.0,184.0 205.4,194.5 205.7,194.5 206.0,188.1 206.3,189.7 206.7,189.2 207.0,193.1 207.3,185.2 207.7,191.2 208.0,183.3 208.3,191.1 208.6,187.4 209.0,192.9 209.3,190.8 209.6,187.7 209.9,187.4 210.3,186.2 210.6,193.9 210.9,192.2 211.3,187.7 211.6,185.8 211.9,190.7 212.2,189.4 212.6,188.0 212.9,189.6 213.2,191.1 213.6,189.2 213.9,191.0 214.2,189.3 214.5,190.0 214.9,187.8 215.2,191.4 215.5,189.7 215.9,188.5 216.2,189.8 216.5,188.6 216.8,188.7 217.2,190.6 217.5,191.6 217.8,184.9 218.2,188.7 218.5,189.4 218.8,188.0 219.1,190.4 219.5,188.6 219.8,187.8 220.1,184.5 220.5,185.3 220.8,189.4 221.1,193.9 221.4,188.1 221.8,183.6 222.1,192.4 222.4,189.6 222.8,192.3 223.1,187.5 223.4,191.4 223.7,190.1 224.1,185.8 224.4,188.2 224.7,189.4 225.1,186.8 225.4,192.3 225.7,188.0 226.0,191.4 226.4,188.4 226.7,190.8 227.0,190.6 227.4,184.0 227.7,188.4 228.0,191.0 228.3,188.1 228.7,193.0 229.0,192.5 229.3,187.0 229.7,189.5 230.0,190.5 230.3,187.2 230.6,193.4 231.0,191.1 231.3,189.2 231.6,186.9 232.0,186.7 232.3,187.0 232.6,191.0 232.9,186.6 233.3,191.3 233.6,195.0 233.9,185.3 234.3,187.1 234.6,191.8 234.9,189.5 235.2,186.5 235.6,188.5 235.9,188.6 236.2,190.6 236.6,186.3 236.9,187.8 237.2,184.5 237.5,189.3 237.9,187.7 238.2,184.4 238.5,179.2 238.9,191.2 239.2,186.6 239.5,188.1 239.8,187.7 240.2,188.5 240.5,190.9 240.8,187.2 241.0,189.1 241.5,188.1 241.8,187.2 242.1,183.3 242.5,184.8 242.8,188.1 243.1,184.5 243.4,184.1 243.8,184.0 244.1,181.2 244.4,181.8 244.8,184.0 245.1,180.7 245.4,179.2 245.7,183.7 246.1,183.2 246.4,180.0 246.7,176.6 247.1,180.8 247.4,178.4 247.7,172.4 248.0,173.5 248.4,172.1 248.7,170.8 249.0,180.2 249.4,181.5 249.7,173.2 250.0,181.1 250.3,180.1 250.7,182.0 251.0,184.1 251.3,184.8 251.7,183.1 252.0,182.0 252.3,185.5 252.6,188.8 253.0,181.2 253.3,182.9 253.6,184.7 254.0,183.2 254.3,184.7 254.6,188.3 254.9,187.2 255.3,186.0 255.6,193.2 255.9,184.8 256.3,188.9 256.6,185.8 256.9,184.4 257.2,185.9 257.6,187.4 257.9,191.4 258.2,187.5 258.6,186.6 258.9,191.5 259.2,187.8 259.5,191.3 259.9,189.2 260.2,189.7 260.5,187.8 260.9,189.0 261.2,186.8 261.5,185.2 261.8,189.0 262.2,187.6 262.5,188.3 262.8,190.6 263.2,182.3 263.5,188.8 263.8,184.0 264.1,183.7 264.5,187.9 264.8,186.7 265.1,182.1 265.5,187.7 265.8,188.4 266.1,191.1 266.4,190.5 266.8,187.8 267.1,184.0 267.4,187.4 267.8,189.0 268.1,189.7 268.4,190.4 268.7,188.4 269.1,189.0 269.4,186.7 269.7,187.2 270.0,189.5 270.4,190.4 270.7,185.1 271.0,187.0 271.4,187.6 271.7,190.1 272.0,188.2 272.3,194.4 272.7,188.6 273.0,186.4 273.3,188.2 273.7,186.9 274.0,187.9 274.3,189.0 274.6,192.0 275.0,191.8 275.3,189.7 275.6,183.6 276.0,189.4 276.3,186.2 276.6,187.9 276.9,189.4 277.3,191.7 277.6,193.5 277.9,188.2 278.3,187.3 278.6,187.5 278.9,190.5 279.2,184.0 279.6,182.2 280.0,185.2 280.2,187.2 280.6,183.5 280.9,187.1 281.2,190.1 281.5,185.9 281.9,190.5 282.2,185.9 282.5,187.2 282.9,184.6 283.2,188.8 283.5,188.5 283.8,187.4 284.2,189.1 284.5,185.3 284.8,190.7 285.2,186.1 285.5,183.1 285.8,183.8 286.1,183.8 286.5,180.2 286.8,179.9 287.1,186.0 287.5,182.6 287.8,183.4 288.1,186.5 288.4,182.2 288.8,178.6 289.1,183.0 289.4,179.5 289.8,184.8 290.1,184.2 290.4,186.2 290.7,181.8 291.1,180.2 291.4,186.1 291.7,187.8 292.1,186.5 292.4,185.9 292.7,186.3 293.0,186.5 293.4,189.2 293.7,184.4 294.0,187.4 294.4,189.7 294.7,188.3 295.0,187.1 295.3,187.4 295.7,189.5 296.0,190.4 296.3,184.7 296.7,194.0 297.0,189.5 297.3,183.7 297.6,185.9 298.0,186.7 298.2,190.5 298.6,189.5 299.0,183.7 299.3,186.0 299.6,187.7 299.9,185.6 300.3,192.5 300.6,190.7 300.9,186.6 301.2,183.7 301.6,189.6 301.9,186.5 302.2,186.2 302.6,184.3 302.9,188.8 303.2,186.9 303.5,189.8 303.9,188.9 304.2,185.7 304.5,187.0 304.9,184.9 305.2,186.8 305.5,183.9 305.8,187.9 306.2,180.9 306.5,186.9 306.8,185.9 307.2,187.7 307.5,183.4 307.8,186.1 308.1,187.1 308.5,185.3 308.8,185.8 309.1,185.2 309.5,184.2 309.8,183.9 310.1,181.4 310.4,185.5 310.8,184.9 311.1,188.6 311.4,182.7 311.8,188.4 312.1,187.2 312.4,178.8 312.7,184.2 313.1,187.5 313.4,184.1 313.7,185.8 314.1,186.3 314.4,182.0 314.7,184.8 315.0,183.3 315.4,186.6 315.7,177.5 316.0,182.5 316.3,180.5 316.7,182.0 317.0,182.5 317.3,181.4 317.7,179.8 318.0,181.3 318.3,176.5 318.7,179.8 319.0,177.0 319.3,173.0 319.6,175.8 320.0,175.3 320.3,174.0 320.6,170.0 321.1,171.8 321.3,175.2 321.6,171.9 321.9,162.2 322.3,161.0 322.6,157.3 322.9,152.2 323.3,149.2 323.6,149.4 323.9,151.2 324.2,148.8 324.6,147.9 324.9,148.0 325.2,140.0 325.7,132.1 325.9,136.4 326.2,141.2 326.5,144.7 326.9,147.8 327.2,144.6 327.5,147.5 327.8,150.1 328.2,154.9 328.5,148.0 328.8,155.0 329.2,153.7 329.5,154.6 329.8,154.9 330.2,157.2 330.5,155.8 330.8,156.6 331.1,159.6 331.5,156.1 331.8,156.9 332.0,155.7 332.4,154.7 332.8,155.5 333.1,163.1 333.4,161.8 333.8,165.1 334.1,164.5 334.4,163.7 334.7,170.7 335.1,174.7 335.4,172.0 335.7,166.3 336.1,166.5 336.4,166.9 336.7,161.8 337.0,162.6 337.4,162.3 337.7,162.6 338.1,154.4 338.4,157.8 338.7,154.9 339.0,150.4 339.3,156.7 339.7,149.6 339.9,152.9 340.3,156.7 340.7,156.2 341.0,155.9 341.3,160.1 341.6,157.3 342.0,157.7 342.3,163.4 342.6,162.8 343.0,162.9 343.3,164.2 343.6,168.1 343.9,174.2 344.3,172.5 344.7,177.1 344.9,180.7 345.3,181.3 345.6,175.2 345.9,182.1 346.2,173.7 346.6,181.9 346.9,177.8 347.2,180.0 347.6,181.0 347.8,181.1 348.2,182.6 348.5,181.5 348.9,182.7 349.2,181.9 349.5,179.9 349.9,182.7 350.2,180.6 350.5,182.2 350.8,181.0 351.2,182.2 351.5,182.9 351.8,183.2 352.2,185.1 352.6,183.5 352.8,181.3 353.1,179.8 353.5,178.2 353.8,184.0 354.1,179.9 354.5,178.9 354.8,179.9 355.1,181.0 355.4,182.5 355.8,179.7 356.1,175.1 356.4,179.0 356.8,176.8 357.1,176.4 357.4,180.9 357.7,178.7 358.1,179.6 358.4,182.2 358.7,182.1 359.1,182.9 359.4,182.8 359.7,181.4 360.0,182.1 360.5,184.0 360.7,184.5 361.0,184.4 361.3,182.0 361.7,187.9 362.0,180.1 362.3,189.3 362.7,188.6 363.0,185.6 363.3,186.3 363.6,187.5 364.0,186.1 364.3,189.0 364.6,190.9 365.0,186.7 365.3,189.7 365.6,187.9 365.9,193.8 366.3,187.0 366.6,190.0 366.9,192.2 367.1,192.0 367.3,190.2 367.6,192.5 367.9,190.2 368.2,192.5 368.6,187.7 368.9,189.3 369.2,193.0 369.6,193.6 369.9,193.5 370.2,187.5 370.5,197.0 370.9,189.6 371.2,194.6 371.5,190.4 371.9,186.0 372.2,189.7 372.5,187.7 372.8,189.0 373.2,186.5 373.5,188.1 373.8,187.9 374.2,185.1 374.4,188.1 374.8,185.7 375.1,186.1 375.5,195.0 375.8,189.4 376.1,187.9 376.5,184.7 376.8,186.7 377.1,190.1 377.4,189.8 377.8,190.3 378.1,188.8 378.4,190.8 378.8,191.1 379.2,193.4 379.4,191.2 379.7,195.3 380.1,191.1 380.4,193.1 380.7,195.6 381.1,188.8 381.4,191.2 381.7,195.2 382.0,191.6 382.4,191.3 382.7,196.4 383.0,195.8 383.4,193.3 383.7,191.5 384.0,191.4 384.3,191.5 384.7,196.7 385.0,190.3 385.3,190.3 385.7,189.3 386.0,192.6 386.3,195.9 386.6,193.0 387.0,195.9 387.3,194.3 387.6,194.3 388.0,194.5 388.3,195.7 388.6,192.5 388.9,195.5 389.3,195.3 389.6,196.3 389.9,194.3 390.3,188.5 390.6,192.7 390.9,195.4 391.2,191.1 391.6,189.7 391.9,195.8 392.2,193.2 392.5,194.4 392.9,193.9 393.2,194.2 393.5,188.7 393.9,192.8 394.2,193.9 394.5,192.1 394.8,193.9 395.2,192.2 395.5,193.7 395.8,194.6 396.2,192.7 396.5,189.4 396.8,194.7 397.1,194.4 397.5,193.2 397.8,193.4 398.1,191.2 398.5,194.5 398.8,194.3 399.1,195.2 399.4,193.3 399.8,189.7 400.1,190.6 400.4,193.1 400.8,197.9 401.1,192.8 401.4,195.3 401.7,193.5 402.1,195.9 402.4,194.3 402.7,191.4 403.1,194.0 403.4,197.0 403.7,190.9 404.0,193.3 404.4,194.4 404.7,194.0 405.0,194.8 405.4,191.4 405.7,198.6 406.0,195.6 406.3,194.4 406.7,196.6 407.0,192.7 407.3,195.5 407.7,192.7 408.0,193.6 408.3,195.4 408.6,196.4 409.0,193.9 409.3,192.8 409.6,193.3 410.0,197.3 410.3,194.0 410.6,188.8 410.9,196.3 411.3,195.7 411.6,191.3 411.9,190.5 412.3,192.4 412.6,191.3 412.9,192.2 413.2,189.5 413.6,195.9 413.9,198.3 414.2,191.8 414.6,194.1 414.9,193.0 415.2,193.2 415.5,191.8 415.9,193.5 416.2,195.7 416.5,194.3 416.9,188.4 417.2,190.2 417.5,192.1 417.8,194.3 418.2,195.0 418.5,196.9 418.8,195.8 419.0,188.6 419.5,191.7 419.8,194.8 420.1,194.5 420.5,190.9 420.8,194.1 421.1,194.0 421.4,191.6 421.8,190.4 422.1,194.3 422.4,189.4 422.8,191.2 423.1,194.6 423.4,190.7 423.7,187.1 424.1,190.6 424.4,187.9 424.7,189.0 425.1,189.0 425.4,191.0 425.7,192.0 426.0,186.7 426.4,186.1 426.7,187.4 427.0,191.7 427.4,189.1 427.7,183.3 428.0,185.2 428.3,183.7 428.7,184.1 429.0,183.3 429.3,182.5 429.7,182.7 430.0,186.3 430.3,178.2 430.6,177.6 431.0,181.8 431.3,179.9 431.6,183.6 432.0,180.0 432.3,181.1 432.6,182.9 432.9,183.0 433.3,185.0 433.6,189.0 433.9,185.0 434.3,186.5 434.6,190.5 434.9,188.2 435.2,189.6 435.6,190.5 435.9,191.8 436.2,190.3 436.6,189.5 436.9,191.6 437.2,191.6 437.5,193.0 437.9,193.1 438.2,187.8 438.5,192.2 438.9,188.9 439.2,192.2 439.5,188.5 439.8,190.2 440.2,189.1 440.5,194.9 440.8,196.5 441.2,192.2 441.5,189.4 441.8,191.5 442.1,195.2 442.5,193.5 442.8,196.0 443.1,190.5 443.5,195.0 443.8,192.6 444.1,194.3 444.4,196.0 444.8,194.5 445.1,198.5 445.4,194.2 445.8,194.2 446.1,190.6 446.4,194.7 446.7,190.9 447.0,195.6 447.4,192.9 447.7,195.5 448.1,194.1 448.4,193.2 448.7,192.3 449.0,193.7 449.4,198.7 449.7,194.7 450.0,195.9 450.4,198.5 450.7,198.5 451.0,194.7 451.3,191.9 451.7,190.5 452.0,197.5 452.3,192.8 452.6,196.8 453.0,197.7 453.3,196.4 453.6,199.7 454.0,197.5 454.3,193.2 454.6,194.0 454.9,193.7 455.3,190.3 455.6,196.7 455.9,195.0 456.3,196.4 456.6,193.5 456.9,193.6 457.2,192.6 457.6,195.3 457.9,192.4 458.2,196.0 458.6,198.0 458.9,196.2 459.2,193.7 459.5,195.1 459.9,194.0 460.2,194.8 460.5,197.9 460.9,194.4 461.2,192.2 461.5,192.2 461.8,197.3 462.2,194.8 462.5,195.6 462.8,196.1 463.2,193.8 463.5,191.8 463.8,197.1 464.1,193.4 464.5,198.4 464.8,193.9 465.1,197.1 465.5,194.6 465.8,193.4 466.1,196.4 466.4,195.3 466.8,193.8 467.1,196.7 467.4,196.6 467.8,193.4 468.1,199.2 468.4,196.0 468.7,191.2 469.1,197.8 469.4,195.0 469.7,193.4 470.1,193.6 470.4,197.1 470.7,197.6 471.0,192.6 471.4,195.1 471.7,193.1 472.0,198.4 472.4,192.7 472.7,193.1 473.0,195.9 473.3,198.3 473.7,196.0 474.0,197.1 474.3,195.3 474.7,195.0 475.0,191.7 475.3,195.3 475.6,196.4 476.0,193.5 476.3,195.4 476.6,196.7 477.0,199.7 477.3,195.8 477.6,192.5 477.9,195.5 478.3,194.3 478.6,195.8 478.9,196.2 479.3,195.4 479.6,198.4 479.9,198.6 480.2,195.5 480.6,199.0 480.9,190.9 481.2,197.0 481.5,194.9 481.9,199.3 482.2,201.6 482.5,194.3 482.9,195.6 483.2,194.2 483.5,194.2 483.8,198.7 484.2,195.8 484.5,195.2 484.8,196.4 485.2,198.6 485.5,198.4 485.8,191.8 486.1,197.0 486.5,195.3 486.8,198.2 487.1,195.9 487.5,197.1 487.8,195.0 488.1,198.2 488.4,192.9 488.8,197.7 489.1,194.0 489.4,194.5 489.8,198.0 490.1,193.2 490.4,194.6 490.7,194.8 491.1,195.5 491.4,198.6 491.7,202.2 492.1,196.7 492.4,200.0 492.7,193.4 493.0,196.2 493.4,193.8 493.7,190.6 494.0,195.3 494.4,194.5 494.7,199.0 495.0,200.9 495.3,197.1 495.7,199.1 496.0,196.4 496.3,196.8 496.7,199.4 497.0,193.0 497.3,202.2 497.6,196.8 498.0,192.6 498.3,199.5 498.6,195.3 499.0,195.2 499.3,194.7 499.6,195.8 499.9,194.9 500.3,195.4 500.6,194.8 500.9,191.5 501.3,197.1 501.6,197.2 501.9,194.9 502.2,193.7 502.6,193.0 502.9,198.1 503.2,194.8 503.6,198.4 503.9,196.4 504.2,196.5 504.5,194.8 504.9,193.8 505.2,191.3 505.5,195.6 505.9,193.3 506.2,195.1 506.5,195.5 506.8,191.4 507.2,198.9 507.5,194.8 507.8,195.8 508.2,191.5 508.5,195.5 508.8,194.3 509.1,193.3 509.5,194.4 509.8,195.9 510.1,197.4 510.5,191.0 510.8,195.3 511.0,200.2 511.4,197.3 511.8,194.7 512.1,190.5 512.4,194.8 512.7,192.9 513.1,191.1 513.4,197.4 513.7,193.1 514.1,192.2 514.4,194.2 514.7,189.0 515.0,189.3 515.4,190.3 515.7,191.7 516.0,190.6 516.4,185.1 516.7,188.0 517.0,188.5 517.3,182.9 517.7,185.2 518.0,185.5 518.3,184.3 518.7,178.4 519.0,177.2 519.3,178.4 519.6,174.9 520.0,174.3 520.3,176.1 520.6,177.9 521.0,179.3 521.3,174.1 521.6,175.3 521.9,178.0 522.3,183.7 522.6,178.7 522.9,178.0 523.3,183.1 523.6,184.6 523.9,184.2 524.2,185.9 524.6,189.6 524.9,188.8 525.2,186.4 525.6,183.5 525.9,189.2 526.2,187.9 526.5,191.6 526.9,189.7 527.2,188.9 527.5,185.5 527.9,190.2 528.2,191.1 528.5,184.3 528.8,193.6 529.2,189.3 529.5,186.9 529.8,185.7 530.2,194.2 530.5,188.1 530.8,192.4 531.1,187.2 531.5,193.9 531.8,194.7 532.1,188.0 532.5,187.7 532.8,192.3 533.1,189.8 533.4,190.4 533.8,187.5 534.1,190.5 534.4,188.2 534.8,192.7 535.1,187.4 535.4,188.7 535.7,193.3 536.1,189.9 536.4,188.5 536.7,190.1 537.0,189.9 537.4,189.8 537.7,192.3 538.0,191.7 538.4,190.2 538.7,188.9 539.0,195.0 539.4,192.1 539.7,191.0 540.0,190.5 540.3,191.3 540.7,191.2 541.0,191.7 541.3,191.3 541.6,190.9 542.0,191.7 542.3,190.2 542.6,190.3 543.0,191.8 543.3,190.8 543.6,189.0 543.9,192.5 544.3,191.7 544.6,189.0 544.9,190.9 545.3,191.2 545.6,189.7 545.9,191.6 546.2,184.9 546.6,189.2 546.9,193.7 547.2,186.6 547.6,191.5 547.9,195.4 548.2,186.9 548.5,189.3 548.9,191.4 549.2,185.0 549.5,189.8 549.9,191.0 550.2,183.8 550.5,190.4 550.8,193.2 551.2,188.6 551.5,191.2 551.8,187.0 552.2,187.9 552.5,188.7 552.8,183.9 553.1,183.2 553.5,185.1 553.8,184.6 554.1,183.4 554.5,185.9 554.8,186.8 555.1,188.3 555.4,187.0 555.8,179.1 556.1,182.2 556.4,184.7 556.8,177.1 557.1,180.7 557.4,175.7 557.7,174.7 558.1,179.6 558.4,181.7 558.7,179.7 559.1,178.9 559.4,176.9 559.7,178.6 560.0,185.1 560.4,183.8 560.7,184.1 561.0,184.1 561.4,187.2 561.7,190.6 562.0,186.4 562.3,188.7 562.7,187.7 563.0,187.3 563.3,184.9 563.7,188.2 564.0,185.4 564.3,187.7 564.6,190.4 565.0,185.8 565.3,187.8 565.6,181.4 566.0,187.4 566.3,185.4 566.6,189.5 566.9,188.6 567.3,188.5 567.6,188.7 567.9,184.9 568.3,187.8 568.6,184.7 568.9,183.4 569.2,181.7 569.6,183.4 569.9,181.4 570.2,184.8 570.6,184.3 570.9,180.7 571.2,180.7 571.5,184.8 571.9,183.0 572.2,185.4 572.5,186.2 572.8,186.9 573.2,189.3 573.5,187.1 573.8,187.5 574.2,187.4 574.5,188.0 574.8,187.6 575.1,189.0 575.5,191.9 575.8,190.9 576.0,187.1 576.5,188.9 576.8,189.4 577.1,185.4 577.4,186.9 577.8,190.6 578.1,188.7 578.4,192.0 578.8,187.0 579.1,190.2 579.4,187.3 579.7,184.9 580.1,187.3 580.4,188.9 580.7,187.3 581.1,186.8 581.4,188.5 581.7,187.6 582.0,187.2 582.4,187.1 582.7,190.4 583.0,186.9 583.4,190.6 583.7,188.9 584.0,185.8 584.3,191.4 584.7,189.5 585.0,192.0 585.3,193.5 585.7,195.4 586.0,191.0 586.3,193.0 586.6,197.0 587.0,194.9 587.3,192.6 587.6,195.2 588.0,196.1 588.3,194.6 588.6,191.3 588.9,194.0 589.3,192.4 589.6,191.8 589.9,192.9 590.3,192.4 590.6,191.6 590.9,192.5 591.2,193.3 591.6,188.9 591.9,189.8 592.2,194.8 592.6,195.2 592.9,193.8 593.2,190.5 593.5,195.8 593.9,194.5 594.2,196.2 594.5,195.5 594.9,194.6 595.2,198.9 595.5,196.1 595.8,197.9 596.2,193.4 596.5,197.1 596.8,200.6 597.2,197.8 597.5,198.9 597.8,199.7 598.1,200.7 598.5,199.2 598.8,196.0 599.1,199.7 599.5,195.8 599.8,196.3 600.1,201.2 600.4,196.4 600.8,197.1 601.1,199.0 601.4,195.4 601.7,196.8 602.1,199.1 602.4,196.1 602.7,195.5 603.1,196.2 603.4,199.9 603.7,197.7 604.0,198.7 604.4,198.4 604.7,197.8 605.0,196.8 605.4,196.5 605.7,195.2 606.0,198.7 606.3,198.2 606.7,194.2 607.0,194.6 607.3,197.4 607.7,198.3 608.0,196.5 608.3,198.1 608.6,200.1 609.0,201.8 609.3,198.1 609.6,200.0 610.0,198.5 610.3,200.3 610.6,199.7 610.9,203.5 611.3,200.0 611.6,200.4 611.9,199.9 612.3,202.3 612.6,204.7 612.9,201.7 613.2,201.0 613.6,204.4 614.0,202.1 614.2,206.7 614.6,201.6 614.9,203.0 615.2,202.6 615.5,198.1 615.9,202.3 616.2,202.1 616.5,202.1 616.9,203.1 617.2,203.2 617.5,201.6 617.8,203.0 618.2,203.9 618.5,206.5 618.8,204.4 619.2,197.7 619.5,204.9 619.8,202.7 620.1,202.3 620.5,200.4 620.8,198.1 621.1,204.3 621.5,203.5 621.8,204.6 622.1,201.7 622.4,202.9 622.8,201.9 623.1,201.7 623.4,209.1 623.8,201.6 624.1,203.9 624.4,203.4 624.7,200.6 625.1,201.9 625.4,204.1 625.7,201.8 626.1,203.6 626.4,204.0 626.7,203.7 627.0,203.5 627.4,203.2 627.7,202.4 628.0,200.5 628.4,204.0 628.7,205.1 629.0,203.0 629.3,203.0 629.7,203.6 630.0,202.5 630.3,199.2 630.7,201.0 631.0,200.3 631.3,204.0 631.6,206.1 632.0,203.0 632.3,206.6 632.6,203.2 632.9,203.4 633.3,202.8 633.6,201.1 633.9,203.5 634.3,204.3 634.6,202.8 634.9,207.6 635.2,201.5 635.6,203.4 635.9,201.8 636.2,202.5 636.6,201.6 636.9,200.9 637.2,202.0 637.5,202.8 637.9,202.6 638.2,202.9 638.5,203.7 638.9,199.5 639.2,205.5 639.5,203.1 640.0,199.1 640.2,201.7 640.5,201.5 640.8,205.6 641.2,205.3 641.5,203.0 641.8,201.5 642.1,202.0 642.5,199.9 642.8,202.1 643.1,205.4 643.5,205.6 643.8,202.4 644.1,204.4 644.4,203.6 644.8,203.3 645.1,200.7 645.4,203.5 645.8,201.0 646.1,202.5 646.4,207.0 646.7,203.4 647.1,205.3 647.4,205.9 647.7,201.3 648.1,203.6 648.4,206.9 648.7,206.1 649.0,204.7 649.4,204.0 649.7,205.7 650.0,203.2 650.4,204.4 650.7,208.8 651.0,202.4 651.3,203.7 651.7,205.4 652.0,205.9 652.3,205.2 652.7,206.2 653.0,204.4 653.3,207.7 653.6,204.3 654.0,202.6 654.3,203.5 654.6,202.3 655.0,204.2 655.3,200.9 655.6,202.3 655.9,207.1 656.3,204.9 656.6,203.8 656.9,206.0 657.3,206.3 657.6,202.2 657.9,205.7 658.2,201.4 658.6,202.7 658.9,205.9 659.2,202.7 659.6,202.8 659.9,206.1 660.2,206.2 660.5,203.9 660.9,205.4 661.2,204.9 661.5,206.4 661.8,201.8 662.2,204.5 662.5,203.1 662.8,204.9 663.2,201.8 663.5,203.0 663.8,203.9 664.1,204.6 664.5,203.4 664.8,206.9 665.1,202.9 665.5,204.0 665.8,205.4 666.1,204.0 666.4,203.7 666.8,201.2 667.1,206.1 667.4,201.1 667.8,204.5 668.1,202.5 668.4,204.2 668.7,203.6 669.1,203.1 669.4,200.3 669.7,204.1 670.1,202.4 670.4,203.1 670.7,205.3 671.0,206.1 671.4,202.4 671.7,204.7 672.0,204.6 672.4,203.0 672.7,205.1 673.0,205.9 673.3,206.6 673.7,208.3 674.0,203.1 674.3,205.3 674.7,200.3 675.0,206.5 675.3,203.5 675.6,202.2 676.0,206.1 676.3,204.6 676.6,203.3 677.0,205.8 677.3,201.8 677.6,200.6 678.0,201.0 678.3,204.5 678.6,204.7 678.9,205.7 679.3,208.0 679.6,206.3 679.9,204.4 680.2,205.0 680.6,205.6 680.9,201.8 681.2,204.8 681.6,204.2 681.9,204.0 682.2,204.8 682.5,202.8 682.9,204.4 683.2,205.2 683.5,203.3 683.9,200.8 684.2,201.8 684.5,203.2 684.8,206.8 685.2,205.8 685.5,203.3 685.8,204.6 686.2,202.3 686.5,205.3 686.8,203.8 687.1,202.5 687.5,204.7 687.8,202.8 688.1,205.5 688.5,205.9 688.8,206.2 689.1,202.7 689.4,201.9 689.8,203.0 690.1,201.8 690.4,206.2 690.8,201.5 691.1,199.0 691.4,202.0 691.7,201.4 692.1,203.3 692.4,204.0 692.7,203.5 693.0,203.0 693.4,205.2 693.7,203.3 694.0,205.8 694.4,203.7 694.7,201.9 695.0,206.1 695.3,202.2 695.7,203.7 696.0,208.1 696.3,203.5 696.7,202.6 697.0,202.9 697.3,203.6 697.6,202.6 698.0,201.5 698.3,202.8 698.6,205.0 699.0,203.8 699.3,204.0 699.6,206.8 699.9,202.0 700.3,204.7 700.6,205.2 700.9,203.9 701.3,203.1 701.6,204.9 701.9,205.3 702.2,201.8 702.6,206.8 702.9,204.7 703.2,206.4 703.6,205.0 703.9,204.4 704.2,203.1 704.5,208.3 704.9,204.1 705.2,201.7 705.5,205.5 705.9,202.6 706.2,203.3 706.5,203.9 706.8,201.8 707.2,202.3 707.5,205.8 707.8,204.3 708.2,201.1 708.5,201.6 708.8,203.2 709.1,199.8 709.5,203.7 709.8,203.9 710.1,202.0 710.5,203.0 710.8,201.5 711.1,201.9 711.4,204.0 711.8,202.1 712.1,201.3 712.4,203.6 712.8,204.5 713.1,202.1 713.4,203.0 713.7,204.8 714.1,204.7 714.4,198.0 714.7,204.0 715.1,205.7 715.4,204.9 715.7,202.7 716.0,205.4 716.4,200.3 716.7,203.4 717.0,203.0 717.4,204.2 717.7,199.3 718.0,202.0 718.3,201.8 718.7,204.0 719.0,202.4 719.3,202.8 719.7,202.0 720.0,202.9 720.3,204.5 720.6,202.3 721.0,201.5 721.3,202.4 721.6,203.5 721.9,204.2 722.3,201.5 722.6,202.7 722.9,200.1 723.3,203.4 723.6,202.9 723.9,199.5 724.2,201.5 724.6,202.5 724.9,199.6 725.2,204.9 725.6,202.4 725.9,199.2 726.2,198.1 726.5,201.8 726.9,201.0 727.2,201.9 727.5,200.9 727.9,198.3 728.2,203.1 728.5,203.2 728.8,205.7 729.2,202.5 729.5,203.5 729.8,203.9 730.2,201.9 730.5,201.1 730.8,200.6 731.1,202.4 731.5,200.8 731.8,202.5 732.1,202.6 732.5,201.5 732.8,202.2 733.1,199.5 733.4,204.4 733.8,200.2 734.1,201.3 734.4,199.5 734.8,202.5 735.1,200.6 735.4,202.7 735.7,198.7 736.1,198.5 736.4,199.8 736.7,198.8 737.1,201.5 737.4,199.5 737.7,199.2 738.0,201.1 738.4,201.7 738.7,203.5 739.0,199.4 739.4,199.2 739.7,194.9 740.0,200.7 740.3,199.0 740.7,201.7 741.0,201.6 741.3,201.3 741.7,198.5 742.0,199.4 742.3,199.5 742.6,201.0 743.0,199.5 743.3,199.5 743.6,200.4 744.0,199.5 744.3,199.1 744.6,201.7 744.9,198.9 745.3,199.3 745.6,199.2 746.0,202.5 746.3,196.7 746.6,200.3 746.9,200.2 747.2,199.0 747.6,199.7 747.9,199.7 748.2,201.4 748.6,197.8 748.9,199.7 749.2,196.5 749.5,198.0 749.9,202.2 750.2,203.1 750.5,198.7 750.9,197.5 751.2,198.7 751.5,200.7 751.8,204.4 752.2,199.9 752.5,201.0 752.8,202.2 753.1,202.1 753.5,201.0 753.8,201.6 754.1,204.6 754.5,202.0 754.8,202.0 755.1,201.1 755.4,201.8 755.8,201.3 756.1,202.3 756.4,203.1 756.8,204.8 757.1,201.6 757.4,205.2 757.7,204.0 758.1,201.4 758.4,202.5 758.7,199.8 759.1,206.4 759.4,201.5 759.7,203.3 760.0,204.6 760.4,205.0 760.7,204.9 761.0,204.3 761.4,200.9 761.7,204.6 762.0,206.0 762.3,205.6 762.7,205.9 763.0,202.5 763.3,200.8 763.7,202.2 764.0,202.2 764.3,201.5 764.6,203.9 765.0,205.5 765.3,205.8 765.6,205.6 766.0,207.2 766.3,201.5 766.6,206.5 766.9,206.5 767.3,201.7 767.6,205.8 767.9,204.9 768.3,202.7 768.6,206.2 768.9,205.5 769.2,206.8 769.6,204.1 769.9,207.4 770.2,201.3 770.6,207.0 770.9,203.9 771.2,208.0 771.5,206.5 771.9,204.2 772.2,207.0 772.5,204.8 772.9,203.0 773.2,203.5 773.5,205.3 773.8,199.7 774.2,203.4 774.5,203.9 774.8,204.1 775.2,204.8 775.5,204.4 775.8,206.8 776.1,205.0 776.5,203.2 776.8,204.7 777.1,207.0 777.5,206.3 777.8,204.9 778.1,205.2 778.4,202.6 778.8,204.2 779.1,203.7 779.4,204.0 779.8,206.6 780.1,206.4 780.4,203.6 780.7,204.3 781.1,205.4 781.4,205.2 781.7,204.0 782.0,206.3 782.4,206.4 782.7,205.3 783.0,204.0 783.4,204.7 783.7,205.8 784.0,203.0 784.3,206.2 784.7,205.9 785.0,204.8 785.3,207.0 785.7,204.5 786.0,204.7 786.3,204.8 786.6,204.6 787.0,206.8 787.3,206.9 787.6,208.0 788.0,209.6 788.3,205.2 788.6,207.1 788.9,207.8 789.3,205.2 789.6,205.4 789.9,204.9 790.3,206.3 790.6,207.3 790.9,207.5 791.2,205.1 791.6,206.4 791.9,206.0 792.2,204.9 792.6,204.2 792.9,206.0 793.2,203.9 793.5,204.6 793.9,206.5 794.2,206.9 794.5,205.9 794.9,207.0 795.2,206.1 795.5,207.1 795.8,205.2 796.2,203.8 796.5,208.6 796.8,207.2 797.2,209.4 797.5,206.4 797.8,207.3 798.1,206.4 798.5,206.8 798.8,204.2 799.1,206.5 799.5,208.2 799.8,205.1 800.1,207.1 800.4,204.9 800.8,207.0 801.1,205.6 801.4,204.2 801.8,208.2 802.1,205.2 802.4,206.1 802.7,204.8 803.1,208.8 803.4,206.5 803.7,206.2 804.1,206.2 804.4,206.8 804.7,207.2 805.0,206.2 805.4,206.4 805.7,203.9 806.0,207.0 806.4,204.9 806.7,205.4 807.0,205.5 807.3,206.8 807.7,206.8 808.0,204.2 808.3,209.1 808.7,204.6 809.0,206.5 809.3,206.2 809.6,203.9 810.0,207.8 810.3,206.2 810.6,205.1 811.0,206.9 811.3,202.3 811.6,206.0 811.9,206.6 812.3,207.6 812.6,207.8 812.9,207.3 813.2,204.2 813.6,207.0 813.9,205.5 814.2,205.7 814.6,208.0 814.9,208.0 815.2,208.8 815.5,207.1 815.9,209.0 816.2,206.3 816.5,208.7 816.9,207.1 817.2,206.5 817.5,204.8 817.8,205.6 818.2,208.6 818.5,207.1 818.8,208.6 819.2,206.0 819.5,206.3 819.8,207.0 820.1,207.2 820.5,207.1 820.8,208.2"/>
<polyline stroke="#1414d8" points="164.3,286.4 164.8,287.0 165.2,287.3 165.7,286.0 166.2,286.9 166.6,288.6 167.1,287.7 167.6,286.7 168.1,287.3 168.5,287.1 169.0,286.8 169.5,288.4 169.9,288.4 170.4,287.5 170.9,287.2 171.3,287.3 171.8,288.4 172.3,289.8 172.7,289.1 173.2,288.0 173.7,287.5 174.2,286.8 174.6,286.9 175.1,286.1 175.6,285.8 176.0,287.8 176.5,289.2 177.0,287.7 177.4,286.5 177.9,288.7 178.4,289.0 178.8,288.1 179.3,288.5 179.8,285.4 180.3,286.7 180.7,289.4 181.2,289.1 181.7,289.2 182.1,289.9 182.6,288.9 183.1,289.0 183.5,289.0 184.0,288.8 184.5,287.2 184.9,288.6 185.4,289.8 185.9,289.4 186.4,290.0 186.8,290.2 187.3,289.3 187.8,287.5 188.2,288.1 188.7,289.1 189.2,289.1 189.6,290.0 190.0,289.4 190.6,290.5 191.0,290.8 191.5,291.8 192.0,290.8 192.5,290.3 192.9,289.0 193.4,289.9 193.9,290.3 194.3,289.6 194.8,290.4 195.3,290.8 195.7,289.9 196.2,289.4 196.7,290.0 197.1,291.7 197.6,289.9 198.1,289.2 198.6,288.8 199.0,292.0 199.5,292.9 200.0,291.1 200.4,289.8 200.9,291.7 201.4,292.0 201.8,291.0 202.3,291.0 202.8,289.9 203.2,291.3 203.7,294.3 204.2,292.5 204.7,292.5 205.1,291.6 205.6,292.1 206.1,290.6 206.5,292.2 207.0,293.2 207.5,291.3 207.9,291.3 208.4,291.7 208.9,291.7 209.3,291.7 209.8,292.7 210.3,293.3 210.8,291.7 211.2,291.6 211.7,293.7 212.2,293.0 212.6,293.8 213.1,293.7 213.6,292.7 214.0,292.8 214.5,291.9 215.0,292.5 215.4,291.9 215.9,294.5 216.4,294.3 216.9,294.1 217.3,294.0 217.8,293.1 218.3,292.3 218.7,291.8 219.2,293.0 219.6,294.9 220.1,294.0 220.6,293.6 221.1,293.5 221.6,293.6 222.0,294.6 222.5,293.5 223.0,294.4 223.4,293.6 223.9,291.8 224.4,293.5 224.8,294.5 225.3,293.5 225.8,293.3 226.2,293.9 226.7,294.2 227.2,293.6 227.7,292.7 228.1,291.5 228.6,292.9 229.1,294.7 229.5,292.5 230.0,290.8 230.5,290.6 230.9,290.7 231.4,291.5 231.9,291.9 232.3,291.6 232.8,292.1 233.3,291.2 233.8,289.6 234.2,289.5 234.7,289.2 235.2,288.7 235.6,289.6 236.1,287.8 236.6,283.9 237.0,281.1 237.5,276.4 238.0,271.4 238.4,267.0 238.9,263.2 239.4,261.5 239.9,263.3 240.3,268.0 240.8,274.6 241.0,277.4 241.3,279.4 241.7,283.5 242.2,285.6 242.7,286.7 243.1,288.4 243.6,290.0 244.1,291.1 244.5,291.9 245.0,291.7 245.5,289.8 246.0,288.3 246.4,289.8 246.9,289.4 247.4,290.7 247.8,293.0 248.3,292.0 248.8,290.8 249.2,290.8 249.7,291.4 250.2,291.5 250.6,290.0 251.1,290.2 251.6,291.8 252.1,292.4 252.5,291.9 253.0,291.9 253.5,291.6 253.9,291.3 254.4,291.2 254.9,290.2 255.3,291.6 255.8,293.7 256.3,291.5 256.7,290.7 257.2,290.8 257.7,289.7 258.2,289.5 258.6,290.5 259.1,290.2 259.6,290.6 260.0,290.6 260.5,288.8 261.0,289.5 261.4,291.3 261.9,290.9 262.4,289.6 262.8,288.5 263.3,289.1 263.8,288.4 264.3,287.5 264.7,288.5 265.2,288.5 265.7,288.3 266.1,287.0 266.6,285.0 267.1,284.7 267.5,285.6 268.0,286.8 268.5,286.6 268.9,285.5 269.4,287.2 269.9,288.5 270.4,286.8 270.8,286.8 271.3,289.3 271.8,289.1 272.2,288.1 272.7,287.6 273.2,287.1 273.6,287.2 274.1,287.4 274.6,287.4 275.0,287.0 275.5,285.9 276.0,284.5 276.5,283.9 276.9,283.8 277.4,283.2 277.9,283.2 278.3,283.4 278.8,283.7 279.3,283.1 279.7,282.7 280.0,283.6 280.2,284.7 280.7,286.2 281.1,287.1 281.6,287.8 282.1,287.4 282.6,286.7 283.0,287.5 283.5,289.3 284.0,291.2 284.4,290.7 284.9,288.3 285.4,288.2 285.8,290.0 286.3,290.4 286.8,289.8 287.2,289.1 287.7,289.4 288.2,289.9 288.7,289.5 289.1,288.1 289.6,288.7 290.1,289.6 290.5,288.4 291.0,288.0 291.5,288.4 291.9,288.1 292.4,286.9 292.9,287.7 293.3,286.8 293.8,286.9 294.3,286.9 294.8,289.0 295.2,289.1 295.7,286.6 296.2,287.1 296.6,288.6 297.1,286.0 297.6,285.6 298.0,286.8 298.5,285.7 299.0,285.2 299.4,285.1 299.9,286.4 300.4,286.4 300.9,285.9 301.3,285.5 301.8,284.1 302.3,283.4 302.7,283.1 303.2,282.6 303.7,282.4 304.1,282.5 304.5,281.3 305.1,277.7 305.5,276.7 306.0,274.0 306.5,274.0 307.0,273.4 307.4,272.0 307.9,270.9 308.4,270.7 308.6,269.9 308.8,268.1 309.3,266.2 309.8,261.9 310.2,258.6 310.7,256.2 311.2,252.9 311.6,251.5 312.0,250.2 312.6,243.9 313.1,240.7 313.5,235.5 314.0,229.6 314.5,225.8 314.9,229.0 315.4,232.5 315.9,236.9 316.3,241.2 316.5,244.3 316.8,243.2 317.3,239.9 317.7,236.0 318.2,234.4 318.7,234.7 319.2,231.6 319.5,231.7 320.1,235.2 320.6,237.3 321.0,243.1 321.5,243.9 322.0,246.0 322.2,247.2 322.4,250.0 322.9,252.9 323.4,254.3 323.9,256.2 324.3,258.0 324.8,262.1 325.2,261.7 325.7,259.9 326.2,259.9 326.7,257.9 327.1,255.7 327.6,254.6 328.1,253.7 328.4,253.4 329.0,256.3 329.5,258.8 330.0,262.7 330.4,264.9 330.9,268.3 331.1,270.9 331.4,271.3 331.8,271.1 332.3,271.3 332.8,272.8 333.2,275.1 333.7,276.5 334.2,277.1 334.6,280.4 335.1,281.3 335.6,281.3 335.9,281.0 336.5,283.0 337.0,283.3 337.5,282.3 337.9,283.2 338.4,283.7 338.9,283.9 339.3,283.7 339.8,283.9 340.0,283.2 340.3,282.1 340.7,282.5 341.2,282.5 341.7,281.1 342.2,280.7 342.6,281.1 343.1,281.1 343.4,281.4 343.6,280.8 344.0,279.3 344.5,281.7 345.0,285.0 345.4,285.1 345.9,285.5 346.4,287.1 346.8,287.0 347.3,286.3 347.8,287.8 348.1,287.9 348.7,288.5 349.2,289.8 349.7,288.7 350.1,291.3 350.6,290.7 351.1,290.1 351.5,291.2 352.0,291.1 352.5,290.3 352.9,290.5 353.4,291.4 353.9,290.7 354.4,291.3 354.8,291.5 355.3,291.2 355.8,292.7 356.2,293.7 356.7,293.4 357.2,292.9 357.6,292.8 358.1,294.1 358.6,293.7 359.0,292.3 359.5,293.0 360.0,293.4 360.5,294.1 360.9,295.2 361.4,295.0 361.7,295.2 361.9,295.8 362.3,295.0 362.8,295.2 363.3,296.2 363.7,295.9 364.2,295.7 364.7,295.4 365.1,294.3 365.6,294.3 366.1,296.8 366.6,296.6 367.0,295.9 367.5,296.4 368.0,296.4 368.4,296.8 368.9,296.8 369.4,296.7 369.8,296.0 370.3,297.2 370.8,298.1 371.2,297.4 371.7,296.5 372.2,296.1 372.7,295.8 373.1,295.3 373.6,296.2 374.1,296.8 374.5,296.5 375.0,300.1 375.5,299.5 375.9,298.3 376.4,297.6 376.9,297.3 377.3,298.3 377.8,299.2 378.3,297.0 378.8,297.6 379.2,299.8 379.5,299.6 379.7,300.1 380.2,300.5 380.6,299.8 381.1,297.9 381.6,298.1 382.0,300.1 382.5,300.7 383.0,299.3 383.4,298.5 383.9,299.6 384.4,299.4 384.9,298.4 385.3,299.2 385.8,300.1 386.3,299.2 386.7,299.6 387.2,300.5 387.7,300.3 388.1,298.9 388.6,299.8 389.1,300.2 389.5,300.3 390.0,299.6 390.5,299.8 391.0,300.0 391.4,298.9 391.9,298.1 392.4,298.3 392.8,299.3 393.3,300.1 393.8,300.4 394.2,299.7 394.7,299.6 395.0,301.5 395.2,300.2 395.6,300.1 396.1,299.3 396.6,299.0 397.1,300.8 397.5,300.7 398.0,299.8 398.5,300.5 398.9,300.1 399.4,299.6 399.9,298.4 400.3,298.4 400.8,299.4 401.3,299.5 401.7,300.2 402.2,300.2 402.7,298.8 403.2,299.2 403.6,300.0 404.1,300.0 404.6,300.9 405.0,299.9 405.5,298.4 406.0,298.4 406.4,298.9 406.9,298.5 407.4,298.6 407.8,300.0 408.3,299.2 408.8,298.6 409.3,298.6 409.7,297.8 410.2,297.2 410.7,296.0 411.1,295.5 411.6,297.4 412.1,297.4 412.5,296.1 413.0,295.0 413.5,293.4 413.9,292.6 414.4,291.5 414.9,289.7 415.4,288.7 415.8,289.1 416.3,288.5 416.8,287.9 417.2,287.0 417.7,286.9 418.2,288.1 418.6,288.2 419.1,289.1 419.6,289.9 420.0,290.4 420.5,290.8 421.0,293.0 421.5,294.4 421.9,294.3 422.4,295.0 422.9,296.8 423.3,298.8 423.8,298.4 424.3,298.0 424.7,298.0 425.2,297.8 425.7,299.4 426.2,299.8 426.6,299.7 427.1,299.5 427.6,300.9 428.0,299.9 428.5,299.1 429.0,300.2 429.4,299.5 429.9,299.8 430.4,299.0 430.8,299.2 431.3,299.6 431.8,300.1 432.3,299.9 432.7,299.0 433.2,300.2 433.7,301.5 434.0,300.7 434.6,300.0 435.1,297.8 435.5,299.5 436.0,299.3 436.5,299.8 436.9,300.5 437.4,301.0 437.9,300.9 438.4,300.2 438.8,300.9 439.3,299.6 439.8,300.6 440.2,301.1 440.7,300.1 441.2,299.3 441.6,299.3 442.1,299.8 442.6,300.3 443.0,300.3 443.5,299.8 444.0,299.8 444.5,301.4 444.9,301.4 445.4,300.9 445.9,301.2 446.3,300.7 446.8,302.2 447.3,300.3 447.7,299.2 448.2,299.0 448.7,300.9 449.1,301.8 449.6,299.9 450.1,297.0 450.6,294.5 451.0,296.4 451.5,290.9 452.0,285.8 452.4,283.0 452.9,284.3 453.4,289.0 453.8,295.5 454.3,299.6 454.8,299.9 455.2,298.8 455.7,300.7 456.2,301.4 456.7,300.5 457.1,299.0 457.6,300.3 458.1,301.9 458.5,301.2 459.0,300.4 459.5,299.4 459.9,298.9 460.4,299.9 460.9,300.8 461.3,300.1 461.8,299.4 462.3,298.6 462.8,298.8 463.2,299.1 463.7,298.5 464.2,297.3 464.6,296.7 465.1,297.4 465.6,296.4 466.0,295.3 466.5,295.6 467.0,296.3 467.4,296.7 467.9,297.2 468.4,298.7 468.9,299.9 469.3,299.1 469.8,298.6 470.3,298.9 470.7,299.6 471.2,299.4 471.7,299.7 472.1,301.9 472.6,302.1 473.0,300.8 473.5,300.8 474.0,300.1 474.5,300.0 475.0,301.2 475.4,301.6 475.9,301.1 476.4,300.7 476.8,300.7 477.3,302.1 477.8,300.3 478.2,300.7 478.7,300.6 479.2,301.3 479.6,300.9 480.1,300.4 480.6,301.3 481.1,302.1 481.5,302.1 482.0,302.7 482.5,301.8 482.9,301.6 483.4,301.8 483.9,301.0 484.3,299.9 484.8,300.3 485.3,301.9 485.7,300.2 486.2,300.2 486.7,300.6 487.2,299.1 487.6,299.6 488.1,302.0 488.6,301.6 489.0,300.7 489.5,300.5 490.0,301.3 490.4,302.0 490.9,300.2 491.4,299.6 491.8,300.6 492.3,300.8 492.8,300.3 493.3,299.7 493.7,300.1 494.2,301.1 494.7,301.2 495.1,301.4 495.6,301.2 496.1,300.6 496.5,300.5 497.0,300.9 497.5,300.1 497.9,299.6 498.4,300.9 498.7,300.5 498.9,299.9 499.4,300.6 499.8,300.5 500.3,300.3 500.8,299.9 501.2,298.1 501.7,298.1 502.2,297.1 502.6,294.6 503.1,293.4 503.6,292.2 504.0,291.5 504.5,290.4 505.0,288.2 505.5,286.5 505.9,286.8 506.4,286.1 506.9,286.4 507.3,287.2 507.8,287.9 508.3,289.0 508.7,290.5 509.2,292.5 509.7,295.1 510.1,294.4 510.6,294.1 511.1,295.1 511.6,295.9 512.0,296.3 512.5,297.2 513.0,297.9 513.4,297.9 513.9,296.9 514.4,296.6 514.8,298.1 515.3,298.9 515.8,299.0 516.2,298.4 516.7,297.0 517.2,296.2 517.7,297.0 518.1,297.1 518.6,298.6 519.1,297.3 519.5,296.5 520.0,296.4 520.5,296.4 520.9,296.0 521.4,295.6 521.9,295.2 522.3,295.2 522.8,295.1 523.3,294.5 523.8,294.0 524.0,293.6 524.2,293.2 524.7,293.6 525.2,293.3 525.6,294.3 526.1,294.7 526.6,293.8 527.0,293.7 527.5,293.1 528.0,294.4 528.5,295.9 528.9,297.1 529.4,297.9 529.9,296.2 530.3,295.9 530.8,295.7 531.3,295.7 531.7,294.8 532.2,297.0 532.7,297.7 533.1,297.5 533.6,296.7 534.1,297.6 534.6,297.4 535.0,296.6 535.5,296.0 536.0,296.0 536.4,295.6 536.9,294.5 537.4,293.1 537.8,291.4 538.3,291.1 538.8,289.1 539.2,287.1 539.7,285.5 540.2,284.1 540.7,282.6 541.1,281.9 541.6,282.4 542.1,280.6 542.5,282.5 543.0,284.1 543.5,284.8 543.9,286.5 544.4,288.4 544.9,290.4 545.3,290.9 545.8,293.1 546.3,294.8 546.8,294.3 547.2,295.4 547.7,296.8 548.2,296.1 548.6,297.4 549.1,297.4 549.6,295.5 550.0,295.0 550.5,295.1 551.0,296.1 551.4,295.1 551.9,293.8 552.4,294.3 552.9,293.7 553.3,293.0 553.8,292.9 554.3,292.9 554.7,292.6 555.2,292.4 555.7,292.7 556.1,294.1 556.5,293.9 557.1,294.7 557.5,296.0 558.0,296.1 558.5,296.6 559.0,296.9 559.4,296.9 559.9,296.2 560.4,295.0 560.8,295.0 561.3,295.5 561.8,296.2 562.2,297.6 562.7,297.3 563.2,296.1 563.6,295.3 564.1,294.6 564.6,294.8 565.1,295.3 565.5,295.7 566.0,295.7 566.5,296.1 566.9,296.7 567.4,297.6 567.9,297.7 568.3,297.4 568.8,298.1 569.3,299.5 569.7,298.3 570.2,296.9 570.7,298.2 571.2,297.7 571.6,297.6 572.1,298.0 572.6,297.9 573.0,298.7 573.5,298.0 574.0,297.2 574.4,297.1 574.9,297.9 575.4,298.7 575.8,298.0 576.3,297.5 576.8,298.5 577.3,299.3 577.7,299.0 578.2,299.2 578.7,298.8 579.1,299.9 579.6,301.4 580.1,300.7 580.5,300.3 581.0,300.5 581.5,299.6 581.9,298.7 582.4,299.0 582.9,300.0 583.4,300.5 583.8,300.5 584.3,301.0 584.8,300.5 585.2,299.3 585.7,299.9 586.2,299.7 586.6,298.2 587.1,299.1 587.6,299.0 588.0,296.7 588.5,295.2 588.7,296.8 589.0,296.1 589.5,295.3 589.9,295.3 590.4,295.3 590.9,296.1 591.3,295.4 591.8,295.7 592.3,297.6 592.7,298.0 593.2,298.9 593.7,300.7 594.1,301.2 594.6,300.9 595.1,300.9 595.6,302.4 596.0,302.9 596.5,302.1 597.0,302.8 597.4,304.1 597.9,303.9 598.4,303.0 598.8,303.0 599.3,303.7 599.8,303.8 600.2,303.7 600.7,303.7 601.2,303.5 601.7,305.0 602.1,305.5 602.6,305.7 603.1,305.8 603.5,304.8 604.0,304.4 604.5,305.4 604.9,305.3 605.4,305.0 605.9,304.7 606.3,303.2 606.8,303.9 607.3,304.9 607.8,306.1 608.0,307.2 608.2,306.7 608.7,306.0 609.2,305.3 609.6,305.3 610.1,305.5 610.6,305.7 611.0,305.5 611.5,306.3 612.0,306.6 612.4,306.7 612.9,307.2 613.4,306.8 613.9,307.1 614.3,307.1 614.8,306.8 615.3,306.5 615.7,305.9 616.2,306.1 616.7,306.2 617.1,305.5 617.6,304.6 618.1,304.7 618.5,305.4 619.0,305.5 619.5,304.7 620.0,304.4 620.4,304.9 620.9,304.7 621.4,304.5 621.8,304.4 622.3,303.9 622.8,303.0 623.2,303.2 623.7,303.8 624.2,303.6 624.6,303.8 625.1,304.5 625.6,305.0 626.1,305.1 626.5,304.4 627.0,304.3 627.5,304.2 627.9,304.8 628.4,306.6 628.9,305.5 629.3,304.8 629.8,304.8 630.3,305.7 630.8,305.1 631.2,305.7 631.7,305.9 632.2,306.1 632.6,305.8 633.1,306.1 633.6,306.8 634.0,306.3 634.5,307.5 635.0,307.7 635.4,305.7 635.9,305.1 636.4,306.1 636.9,305.4 637.3,305.7 637.8,307.2 638.3,306.2 638.7,305.8 639.2,306.1 639.7,304.9 640.1,306.7 640.6,306.1 641.1,305.9 641.5,306.3 642.0,306.8 642.5,306.3 643.0,305.5 643.4,307.1 643.9,307.5 644.4,306.2 644.8,306.2 645.3,305.8 645.8,307.0 646.2,307.1 646.7,306.8 647.2,306.9 647.6,306.2 648.1,306.4 648.6,306.4 649.1,306.0 649.5,306.1 650.0,305.8 650.5,305.6 650.9,305.9 651.4,305.8 651.9,306.1 652.3,307.1 652.8,307.6 653.3,307.7 653.7,307.4 654.2,307.4 654.7,306.7 655.2,306.0 655.6,306.1 656.1,306.7 656.6,306.6 657.0,306.1 657.5,307.6 658.0,307.6 658.4,306.5 658.9,307.2 659.4,307.9 659.8,307.4 660.3,307.4 660.8,307.5 661.3,307.1 661.7,305.5 662.2,306.8 662.7,307.6 663.1,307.2 663.6,307.6 664.1,307.3 664.5,305.4 665.0,304.9 665.5,306.2 665.9,306.5 666.4,306.5 666.9,305.7 667.4,306.5 667.8,307.1 668.3,306.4 668.8,306.8 669.2,306.8 669.7,306.8 670.2,306.3 670.6,306.7 671.1,306.3 671.6,305.7 672.0,305.6 672.5,305.8 673.0,304.6 673.5,307.2 673.9,307.4 674.4,306.6 674.9,306.5 675.3,306.9 675.8,306.0 676.3,305.8 676.7,307.6 677.2,308.3 677.7,307.2 678.1,307.7 678.7,308.5 679.1,308.1 679.6,308.3 680.0,308.0 680.5,306.8 681.0,306.3 681.4,307.0 681.9,306.6 682.4,306.8 682.8,306.6 683.3,306.1 683.8,306.4 684.2,305.9 684.7,306.8 685.2,307.8 685.7,307.6 686.1,306.2 686.6,305.7 687.1,306.3 687.5,306.2 688.0,306.7 688.5,307.0 688.9,306.7 689.4,307.1 689.9,305.2 690.3,304.2 690.8,305.3 691.3,306.9 691.8,306.7 692.2,306.5 692.7,306.7 693.2,305.7 693.6,304.6 694.1,305.0 694.6,305.3 695.0,305.6 695.5,304.5 696.0,303.8 696.4,304.4 696.9,304.4 697.4,303.4 697.9,304.0 698.3,303.7 698.8,302.9 699.3,305.0 699.7,306.5 700.2,304.8 700.7,305.7 701.1,304.8 701.6,304.2 702.1,304.3 702.5,304.7 703.0,305.5 703.5,305.3 704.0,305.0 704.4,305.8 704.9,305.9 705.4,305.9 705.8,305.3 706.3,306.8 706.8,307.5 707.2,305.8 707.7,306.1 708.2,306.0 708.6,305.2 709.1,305.5 709.6,305.8 710.1,305.1 710.5,305.3 711.0,305.6 711.5,305.6 711.9,305.3 712.4,305.0 712.9,304.9 713.3,305.0 713.8,306.5 714.3,306.6 714.7,306.1 715.2,305.0 715.7,304.3 716.2,304.6 716.6,304.7 717.0,305.4 717.6,305.9 718.0,305.7 718.5,305.0 719.0,303.1 719.4,303.4 719.9,304.6 720.4,304.3 720.8,303.0 721.3,303.5 721.8,304.3 722.3,303.7 722.7,303.2 723.2,303.1 723.7,304.3 724.1,303.4 724.6,302.3 725.1,302.3 725.5,301.9 726.0,302.1 726.5,302.9 726.9,302.7 727.4,302.0 727.9,303.4 728.4,303.1 728.8,302.2 729.3,302.5 729.8,302.3 730.2,302.3 730.7,302.4 731.2,302.4 731.6,302.7 732.1,302.5 732.6,302.1 733.1,302.5 733.5,302.6 734.0,302.3 734.5,303.5 734.9,304.0 735.4,303.4 735.9,303.6 736.3,304.6 736.8,305.2 737.3,304.4 737.7,303.7 738.2,303.7 738.7,303.7 739.2,304.5 739.6,305.5 740.1,307.3 740.6,305.9 741.0,304.5 741.5,303.9 742.0,304.9 742.4,305.4 743.0,305.0 743.4,304.8 743.8,305.3 744.3,306.4 744.8,306.8 745.3,306.3 745.7,306.5 746.2,306.7 746.7,306.7 747.1,306.9 747.6,306.3 748.1,305.9 748.5,306.8 749.0,307.7 749.5,307.7 749.9,307.1 750.4,306.9 750.9,307.5 751.4,307.3 751.8,307.1 752.3,307.7 752.8,307.8 753.2,308.1 753.7,307.5 754.2,307.9 754.6,307.2 755.1,307.9 755.6,308.7 756.0,308.3 756.5,309.2 757.0,309.8 757.5,308.7 757.9,307.1 758.4,306.8 758.9,308.4 759.3,308.9 759.8,308.5 760.3,308.5 760.7,307.6 761.2,307.7 761.7,308.8 762.1,309.1 762.6,309.1 763.1,309.1 763.6,309.0 764.0,308.7 764.5,309.1 765.0,309.1 765.4,308.9 765.9,310.2 766.4,310.6 766.8,309.9 767.3,308.8 767.8,309.9 768.2,310.1 768.7,309.7 769.2,310.1 769.7,310.4 770.1,309.5 770.6,309.3 771.1,310.0 771.5,307.8 772.0,309.9 772.5,310.2 772.9,310.9 773.4,310.3 773.9,310.0 774.3,309.7 774.8,309.7 775.3,310.8 775.8,310.5 776.2,310.2 776.7,310.1 777.2,310.3 777.6,311.1 778.1,311.2 778.6,310.4 779.0,310.6 779.5,310.2 780.0,309.9 780.4,310.6 780.9,310.6 781.4,310.3 781.9,310.3 782.3,311.0 782.8,310.9 783.3,310.6 783.7,310.6 784.2,310.5 784.7,310.9 785.1,311.0 785.6,310.8 786.1,311.1 786.5,311.1 787.0,310.9 787.5,311.0 788.0,311.0 788.4,311.0 788.9,311.1 789.4,310.7 789.8,310.8 790.3,311.5 790.8,311.2 791.2,311.0 791.7,311.5 792.2,311.4 792.6,310.6 793.1,311.3 793.6,311.2 794.1,311.6 794.4,310.7 795.0,310.7 795.5,311.3 795.9,311.7 796.4,311.7 796.9,311.8 797.3,311.7 797.8,311.3 798.3,311.1 798.7,310.3 799.2,311.7 799.7,312.0 800.2,311.6 800.6,310.9 801.1,310.9 801.6,311.6 802.0,311.3 802.5,310.1 803.0,311.3 803.4,311.6 803.9,311.5 804.4,311.7 804.8,311.4 805.3,311.1 805.8,310.4 806.3,310.6 806.7,311.6 807.2,310.8 807.7,310.0 808.1,310.9 808.6,311.4 809.1,311.1 809.5,311.0 810.0,311.6 810.5,311.0 810.9,310.8 811.4,310.5 811.9,310.2 812.4,311.1 812.8,311.7 813.3,311.2 813.8,310.6 814.2,311.0 814.7,311.6 815.2,310.7 815.6,311.0 816.1,311.4 816.6,311.7 817.0,311.4 817.5,310.5 818.0,310.1 818.5,310.3 818.9,310.5 819.4,310.7 819.9,310.2 820.3,310.2 820.8,310.5"/>
<polyline stroke="#ee1c1c" points="164.3,383.8 164.8,383.9 165.2,384.4 165.7,383.7 166.2,384.0 166.6,384.0 167.1,383.6 167.6,385.0 168.1,383.4 168.5,383.1 169.0,383.6 169.5,383.7 169.9,383.6 170.4,384.4 170.9,384.2 171.3,385.2 171.8,385.5 172.3,385.8 172.7,387.4 173.2,387.0 173.7,384.6 174.2,383.2 174.6,384.4 175.1,384.3 175.6,385.5 176.0,385.4 176.5,384.8 177.0,385.8 177.4,386.5 177.9,384.5 178.4,385.9 178.8,387.1 179.3,386.0 179.8,386.4 180.3,387.9 180.7,386.8 181.2,385.6 181.7,384.8 182.1,384.7 182.6,385.6 183.1,386.3 183.5,387.1 184.0,386.8 184.5,386.3 184.9,387.4 185.4,388.0 185.9,388.5 186.4,389.2 186.8,387.4 187.3,386.2 187.8,387.3 188.2,387.4 188.7,387.2 189.2,388.2 189.6,388.5 190.0,388.6 190.6,387.8 191.0,386.6 191.5,385.8 192.0,386.7 192.5,389.5 192.9,388.3 193.4,388.1 193.9,388.2 194.3,386.5 194.8,387.5 195.3,389.4 195.7,389.2 196.2,388.9 196.7,390.4 197.1,390.7 197.6,390.0 198.1,387.3 198.6,390.8 199.0,390.4 199.5,390.1 200.0,388.6 200.4,387.3 200.9,386.8 201.4,388.8 201.8,390.6 202.3,392.5 202.8,391.6 203.2,389.5 203.7,388.8 204.2,390.1 204.7,390.1 205.1,388.5 205.6,389.2 206.1,389.4 206.5,391.0 207.0,392.2 207.5,390.6 207.9,391.1 208.4,391.0 208.9,391.1 209.3,392.2 209.8,390.6 210.3,389.6 210.8,390.4 211.2,389.9 211.7,390.6 212.2,391.3 212.6,390.6 213.1,390.4 213.6,390.6 214.0,391.7 214.5,392.3 215.0,392.6 215.4,393.6 215.9,392.8 216.4,391.6 216.9,391.7 217.3,391.5 217.8,391.4 218.3,392.0 218.7,391.9 219.2,392.1 219.6,391.6 220.1,390.3 220.6,390.8 221.1,393.2 221.6,392.4 222.0,391.3 222.5,392.8 223.0,393.1 223.4,392.6 223.9,392.1 224.4,393.6 224.8,394.2 225.3,393.3 225.8,393.5 226.2,392.1 226.7,391.7 227.2,393.1 227.7,393.1 228.1,392.0 228.6,391.3 229.1,391.7 229.5,392.2 230.0,392.9 230.5,391.7 230.9,390.8 231.4,391.4 231.9,391.7 232.3,392.3 232.8,392.3 233.3,392.6 233.8,391.8 234.2,390.0 234.7,389.9 235.2,389.9 235.6,389.0 236.1,386.9 236.6,384.5 237.0,381.3 237.5,377.3 238.0,373.3 238.4,368.7 238.9,365.6 239.4,364.8 239.9,366.0 240.3,370.4 240.8,375.4 241.0,377.2 241.3,378.6 241.7,382.5 242.2,384.6 242.7,385.7 243.1,388.8 243.6,392.0 244.1,392.2 244.5,390.8 245.0,391.3 245.5,390.5 246.0,390.4 246.4,391.9 246.9,391.8 247.4,391.2 247.8,391.4 248.3,390.2 248.8,390.8 249.2,392.8 249.7,390.7 250.2,391.4 250.6,390.4 251.1,390.3 251.6,391.0 252.1,390.0 252.5,390.2 253.0,389.8 253.5,388.7 253.9,389.3 254.4,388.8 254.9,390.9 255.3,392.8 255.8,391.4 256.3,390.3 256.7,389.8 257.2,390.6 257.7,388.8 258.2,389.3 258.6,390.1 259.1,389.6 259.6,389.4 260.0,389.4 260.5,390.4 261.0,390.7 261.4,390.3 261.9,389.1 262.4,388.4 262.8,388.1 263.3,388.0 263.8,388.1 264.3,387.4 264.7,386.5 265.2,384.7 265.7,385.5 266.1,386.4 266.6,384.5 267.1,386.0 267.5,385.0 268.0,385.7 268.5,387.6 268.9,386.4 269.4,386.5 269.9,386.9 270.4,388.2 270.8,389.2 271.3,387.6 271.8,386.2 272.2,385.2 272.7,386.9 273.2,387.1 273.6,386.2 274.1,386.4 274.6,386.8 275.0,386.0 275.5,384.0 276.0,382.6 276.5,381.9 276.9,380.8 277.4,378.9 277.9,378.9 278.3,379.7 278.8,379.8 279.3,381.6 279.7,383.0 280.0,381.7 280.2,382.0 280.7,383.2 281.1,384.3 281.6,385.4 282.1,386.4 282.6,386.5 283.0,385.6 283.5,386.7 284.0,385.4 284.4,384.9 284.9,386.1 285.4,386.5 285.8,386.9 286.3,388.0 286.8,388.2 287.2,387.8 287.7,386.7 288.2,385.9 288.7,385.9 289.1,385.1 289.6,385.6 290.1,384.5 290.5,386.3 291.0,386.1 291.5,385.5 291.9,385.0 292.4,385.4 292.9,385.3 293.3,385.8 293.8,386.8 294.3,386.0 294.8,385.3 295.2,385.1 295.7,386.1 296.2,385.0 296.6,384.3 297.1,384.7 297.6,386.0 298.0,386.2 298.5,384.4 299.0,384.7 299.4,385.1 299.9,384.1 300.4,383.8 300.9,383.9 301.3,382.7 301.8,383.8 302.3,383.8 302.7,382.6 303.2,382.0 303.7,381.8 304.1,380.4 304.6,380.1 305.1,380.9 305.7,379.4 306.0,378.2 306.5,377.8 307.0,375.9 307.4,374.8 307.9,373.8 308.4,372.7 308.8,374.1 309.3,370.8 309.8,366.9 310.2,363.8 310.7,360.3 311.2,357.1 311.6,355.5 312.0,353.9 312.6,344.4 313.1,338.6 313.5,332.7 314.1,324.4 314.5,328.9 314.9,332.6 315.4,336.1 315.9,341.7 316.3,345.5 316.8,349.6 317.1,351.8 317.3,350.8 317.7,349.8 318.2,348.5 318.7,347.0 319.2,344.5 319.6,342.9 319.8,342.5 320.1,343.8 320.6,346.9 321.0,349.5 321.5,350.9 322.0,352.6 322.4,355.5 322.9,359.0 323.4,361.0 323.9,361.1 324.3,361.6 324.8,365.6 325.0,369.3 325.3,366.7 325.7,362.9 326.2,360.9 326.7,357.9 327.1,355.6 327.6,352.1 328.1,348.2 328.4,344.5 329.0,352.0 329.5,356.3 330.0,360.1 330.4,365.4 330.9,371.2 331.1,374.1 331.4,373.0 331.8,373.7 332.3,375.5 332.8,376.5 333.2,379.4 333.7,380.7 334.2,379.7 334.5,379.9 335.1,381.2 335.6,382.5 336.1,382.1 336.5,382.8 337.0,382.3 337.5,381.9 337.9,383.7 338.4,385.5 338.9,383.6 339.3,383.0 339.9,385.4 340.3,384.8 340.7,383.3 341.2,383.8 341.7,383.2 342.2,382.5 342.6,382.7 343.1,383.2 343.6,383.3 343.8,381.4 344.0,382.9 344.5,383.5 345.0,384.5 345.4,385.0 345.9,384.1 346.4,384.3 346.8,387.1 347.3,388.9 347.8,388.8 348.1,388.6 348.7,388.8 349.2,389.4 349.7,389.0 350.1,388.2 350.6,389.5 351.1,390.0 351.5,390.2 352.0,391.8 352.5,391.9 352.9,390.7 353.4,390.6 353.9,391.1 354.4,391.9 354.8,392.1 355.3,390.4 355.8,389.6 356.2,391.9 356.7,392.7 357.2,393.3 357.6,393.6 358.1,392.2 358.6,392.2 359.0,392.1 359.5,392.0 360.0,392.8 360.5,393.3 360.9,394.3 361.4,393.7 361.7,393.4 361.9,393.6 362.3,394.6 362.8,394.5 363.3,394.2 363.7,392.9 364.2,393.9 364.7,394.1 365.1,392.7 365.6,393.8 366.1,395.5 366.6,396.5 367.0,394.2 367.5,394.6 368.0,396.1 368.4,395.4 368.9,394.6 369.4,394.7 369.8,396.4 370.3,396.1 370.8,394.8 371.2,395.4 371.7,396.6 372.2,396.5 372.7,395.2 373.1,396.4 373.6,397.1 374.1,395.7 374.5,396.1 375.0,396.5 375.5,395.8 375.9,394.8 376.4,394.8 376.9,396.6 377.3,397.3 377.8,396.8 378.3,397.4 378.8,397.1 379.2,396.8 379.5,397.7 379.7,397.4 380.2,396.1 380.6,395.7 381.1,397.4 381.6,397.8 382.0,396.8 382.5,397.6 383.0,398.5 383.4,397.4 383.9,396.5 384.4,396.3 384.9,397.6 385.3,397.8 385.8,397.9 386.3,399.1 386.7,397.6 387.2,396.9 387.7,397.7 388.1,398.3 388.6,398.5 389.1,397.9 389.5,397.7 390.0,397.7 390.5,398.3 391.0,398.7 391.4,397.6 391.9,397.2 392.4,399.1 392.8,397.1 393.3,398.0 393.8,399.1 394.2,398.0 394.7,397.9 395.0,397.1 395.2,396.0 395.6,397.7 396.1,397.8 396.6,397.0 397.1,397.1 397.5,396.9 398.0,397.9 398.5,397.7 398.9,395.8 399.4,396.0 399.9,397.4 400.3,398.0 400.8,395.9 401.3,395.6 401.7,399.1 402.2,399.4 402.7,397.5 403.2,398.1 403.6,398.9 404.1,398.8 404.6,399.2 405.0,399.0 405.5,398.2 406.0,397.4 406.4,395.5 406.9,397.6 407.4,396.0 407.8,395.5 408.3,397.5 408.8,397.9 409.3,397.5 409.7,396.7 410.2,396.9 410.7,398.1 411.1,396.7 411.6,394.4 412.1,392.9 412.5,392.4 413.0,392.2 413.5,390.4 413.9,389.0 414.4,387.2 414.9,386.9 415.4,386.0 415.8,385.5 416.3,385.7 416.8,385.7 417.2,387.5 417.7,386.8 418.2,386.6 418.6,389.0 419.1,389.2 419.6,391.2 420.0,392.9 420.5,393.5 421.0,394.8 421.5,395.0 421.9,396.4 422.4,398.1 422.9,398.2 423.3,398.4 423.8,398.3 424.3,398.0 424.7,397.3 425.2,398.4 425.7,399.5 426.2,398.8 426.6,400.9 427.1,398.1 427.6,398.8 428.0,399.3 428.5,399.9 429.0,399.4 429.4,399.0 429.9,398.5 430.4,398.6 430.8,399.3 431.3,399.0 431.8,397.9 432.3,397.7 432.7,398.3 433.2,400.4 433.7,400.4 434.0,398.6 434.6,397.2 435.1,400.0 435.5,398.3 436.0,397.7 436.5,400.0 436.9,399.4 437.4,399.6 437.9,399.7 438.4,398.3 438.8,399.0 439.3,398.0 439.8,398.4 440.2,399.8 440.7,399.5 441.2,397.8 441.6,398.2 442.1,399.4 442.6,398.3 443.0,398.3 443.5,398.9 444.0,398.3 444.5,398.0 444.9,398.5 445.4,399.5 445.9,400.1 446.3,400.8 446.8,399.8 447.3,397.8 447.7,398.0 448.2,398.6 448.7,399.3 449.1,399.6 449.6,398.3 450.1,398.7 450.6,395.2 451.0,392.0 451.5,389.2 452.0,385.4 452.4,384.1 452.9,386.3 453.4,390.8 453.8,394.7 454.3,396.5 454.8,398.9 455.2,400.0 455.7,399.1 456.2,398.6 456.7,398.5 457.1,398.9 457.6,399.5 458.1,400.1 458.5,401.3 459.0,401.5 459.5,400.9 459.9,399.9 460.4,399.1 460.9,399.0 461.3,398.3 461.8,398.6 462.3,398.1 462.8,396.0 463.2,396.1 463.7,396.9 464.2,397.0 464.6,396.0 465.1,395.4 465.6,396.1 466.0,395.0 466.5,393.5 467.0,394.7 467.4,397.4 467.9,395.6 468.4,395.8 468.9,397.3 469.3,398.6 469.8,397.3 470.3,397.9 470.7,399.1 471.2,399.5 471.7,399.7 472.1,399.1 472.6,398.8 473.0,399.4 473.5,399.9 474.0,399.0 474.5,398.1 475.0,399.9 475.4,400.4 475.9,400.5 476.4,400.6 476.8,399.3 477.3,399.4 477.8,399.3 478.2,399.7 478.7,401.1 479.2,400.7 479.6,399.9 480.1,398.8 480.6,399.0 481.1,400.6 481.5,401.4 482.0,401.3 482.5,399.7 482.9,398.8 483.4,400.6 483.9,401.6 484.3,399.6 484.8,402.3 485.3,402.0 485.7,401.5 486.2,401.6 486.7,400.7 487.2,399.0 487.6,399.3 488.1,400.5 488.6,400.9 489.0,400.8 489.5,400.8 490.0,400.3 490.4,400.0 490.9,401.0 491.4,400.7 491.8,400.6 492.3,399.9 492.8,399.8 493.3,401.1 493.7,400.5 494.2,401.1 494.7,401.7 495.1,400.6 495.6,400.3 496.1,401.2 496.5,402.4 497.0,401.8 497.5,400.8 497.9,401.1 498.4,400.2 498.7,399.8 498.9,400.3 499.4,401.0 499.8,400.2 500.3,399.4 500.8,399.4 501.2,399.2 501.7,398.2 502.2,396.0 502.6,395.0 503.1,394.6 503.6,392.8 504.0,391.5 504.5,390.9 505.0,389.2 505.5,387.5 505.9,387.8 506.4,389.5 506.9,389.5 507.3,389.5 507.8,390.6 508.3,391.4 508.7,392.0 509.2,392.9 509.7,393.0 510.1,394.7 510.6,396.4 511.1,396.7 511.6,396.7 512.0,398.2 512.5,399.2 513.0,398.5 513.4,398.6 513.9,399.0 514.4,399.2 514.8,399.4 515.3,399.3 515.8,399.6 516.2,399.1 516.7,399.6 517.2,398.8 517.7,399.6 518.1,399.1 518.6,397.9 519.1,398.2 519.5,397.9 520.0,397.6 520.5,397.4 520.9,397.3 521.4,397.3 521.9,396.6 522.3,396.9 522.8,395.6 523.3,398.0 523.8,395.6 524.0,394.8 524.2,395.3 524.7,394.2 525.2,395.5 525.6,396.7 526.1,395.8 526.6,395.3 527.0,396.1 527.5,396.1 528.0,395.5 528.5,397.7 528.9,397.4 529.4,397.0 529.9,396.7 530.3,396.2 530.8,397.3 531.3,397.4 531.7,396.5 532.2,397.8 532.7,400.0 533.1,398.3 533.6,398.8 534.1,398.9 534.6,397.4 535.0,397.9 535.5,398.9 536.0,396.8 536.4,395.6 536.9,396.0 537.4,396.0 537.8,394.4 538.3,392.7 538.8,392.4 539.2,390.6 539.7,388.0 540.2,386.7 540.7,384.5 541.1,383.5 541.6,382.4 542.1,382.9 542.5,382.4 543.0,384.3 543.5,385.9 543.9,388.4 544.4,388.7 544.9,390.6 545.3,392.4 545.8,393.6 546.3,396.0 546.8,395.8 547.2,395.7 547.7,396.4 548.2,397.1 548.6,397.3 549.1,397.7 549.6,398.8 550.0,397.3 550.5,396.0 551.0,396.2 551.4,395.7 551.9,395.6 552.4,396.3 552.9,396.0 553.3,394.4 553.8,394.2 554.3,394.5 554.7,394.4 555.2,395.0 555.7,395.0 556.1,395.9 556.5,395.6 557.1,395.0 557.5,396.5 558.0,397.1 558.5,397.0 559.0,396.2 559.4,396.1 559.9,397.5 560.4,398.0 560.8,399.3 561.3,398.6 561.8,397.6 562.2,398.8 562.7,398.8 563.2,397.8 563.6,397.1 564.1,398.0 564.6,395.7 565.1,396.1 565.5,396.4 566.0,395.7 566.5,397.9 566.9,399.1 567.4,397.6 567.9,398.6 568.3,398.8 568.8,401.2 569.3,399.4 569.7,399.3 570.2,399.4 570.7,398.9 571.2,399.5 571.6,399.6 572.1,399.5 572.6,399.9 573.0,399.1 573.5,399.1 574.0,398.7 574.4,397.1 574.9,398.9 575.4,400.8 575.8,401.1 576.3,398.6 576.8,400.0 577.3,400.5 577.7,400.2 578.2,400.1 578.7,399.2 579.1,399.1 579.6,399.4 580.1,400.0 580.5,400.1 581.0,400.6 581.5,401.9 581.9,402.9 582.4,403.4 582.9,402.2 583.4,401.4 583.8,401.3 584.3,401.2 584.8,402.0 585.2,402.5 585.7,403.1 586.2,401.6 586.6,399.4 587.1,400.0 587.6,400.1 588.0,399.1 588.5,398.6 588.7,399.0 589.0,398.5 589.5,398.6 589.9,398.8 590.4,399.3 590.9,398.4 591.3,398.8 591.8,399.2 592.3,401.0 592.7,401.6 593.2,401.0 593.7,401.5 594.1,402.9 594.6,403.1 595.1,403.8 595.6,404.7 596.0,404.0 596.5,402.9 597.0,404.2 597.4,404.7 597.9,403.6 598.4,404.9 598.8,402.9 599.3,404.3 599.8,405.2 600.2,405.2 600.7,405.3 601.2,405.5 601.7,404.5 602.1,404.8 602.6,404.2 603.1,405.6 603.5,405.6 604.0,404.5 604.5,406.5 604.9,407.4 605.4,407.1 605.9,406.8 606.3,406.3 606.8,405.6 607.3,406.6 607.8,407.6 608.0,406.3 608.2,407.1 608.7,406.8 609.2,405.9 609.6,405.5 610.1,405.4 610.6,405.9 611.0,406.4 611.5,407.2 612.0,407.0 612.4,406.9 612.9,404.2 613.4,406.2 613.9,406.6 614.3,407.3 614.8,407.4 615.3,406.9 615.7,406.9 616.2,407.8 616.7,407.0 617.1,406.0 617.6,406.2 618.1,406.6 618.5,406.5 619.0,407.1 619.5,407.9 620.0,408.3 620.4,406.3 620.9,405.6 621.4,405.8 621.8,406.8 622.3,407.9 622.8,406.7 623.2,406.3 623.7,406.5 624.2,406.9 624.6,407.0 625.1,406.9 625.6,407.3 626.1,406.8 626.5,406.3 627.0,406.3 627.5,406.5 627.9,407.1 628.4,406.7 628.9,405.6 629.3,406.6 629.8,408.1 630.3,408.4 630.8,408.0 631.2,407.4 631.7,407.4 632.2,407.3 632.6,407.6 633.1,406.4 633.6,405.9 634.0,407.1 634.5,406.3 635.0,407.3 635.4,407.4 635.9,407.7 636.4,408.2 636.9,407.3 637.3,407.8 637.8,408.1 638.3,406.6 638.7,407.1 639.2,408.0 639.7,407.1 640.1,407.0 640.6,406.9 641.1,406.1 641.5,406.8 642.0,405.5 642.5,407.5 643.0,407.4 643.4,407.1 643.9,406.1 644.4,406.2 644.8,407.5 645.3,406.9 645.8,407.6 646.2,408.2 646.7,407.0 647.2,405.6 647.6,406.0 648.1,407.3 648.6,407.0 649.1,407.0 649.5,406.7 650.0,407.2 650.5,407.1 650.9,407.4 651.4,405.9 651.9,406.5 652.3,406.2 652.8,407.2 653.3,408.1 653.7,407.9 654.2,407.3 654.7,406.1 655.2,406.9 655.6,407.3 656.1,406.2 656.6,406.6 657.0,407.1 657.5,407.7 658.0,407.7 658.4,406.4 658.9,406.4 659.4,407.1 659.8,406.6 660.3,407.0 660.8,407.7 661.3,408.0 661.7,408.7 662.2,408.0 662.7,406.7 663.1,406.4 663.6,406.9 664.1,407.2 664.5,407.2 665.0,407.2 665.5,407.3 665.9,407.9 666.4,408.3 666.9,408.1 667.4,407.3 667.8,407.4 668.3,406.6 668.8,406.7 669.2,407.7 669.7,406.7 670.2,406.4 670.6,405.4 671.1,408.3 671.6,407.4 672.0,406.8 672.5,406.4 673.0,407.1 673.5,406.8 673.9,407.5 674.4,409.1 674.9,408.0 675.3,406.7 675.8,408.2 676.3,407.1 676.7,406.2 677.2,405.7 677.7,406.4 678.1,407.0 678.7,407.3 679.1,408.5 679.6,408.8 680.0,408.2 680.5,406.8 681.0,405.3 681.4,404.9 681.9,406.6 682.4,407.2 682.8,406.8 683.3,407.3 683.8,407.7 684.2,407.6 684.7,406.9 685.2,406.7 685.7,406.1 686.1,405.4 686.6,406.5 687.1,407.6 687.5,407.8 688.0,407.8 688.5,406.9 688.9,405.6 689.4,406.2 689.9,406.9 690.3,407.2 690.8,406.8 691.3,406.5 691.8,406.3 692.2,406.2 692.7,406.1 693.2,406.0 693.6,405.4 694.1,405.0 694.6,405.6 695.0,404.8 695.5,404.5 696.0,405.3 696.4,406.0 696.9,405.7 697.4,404.8 697.9,404.7 698.3,405.3 698.8,405.5 699.3,404.2 699.7,405.3 700.2,404.7 700.7,405.2 701.1,405.6 701.6,406.1 702.1,407.2 702.5,407.1 703.0,406.2 703.5,406.8 704.0,405.8 704.4,406.2 704.9,407.6 705.4,408.4 705.8,407.9 706.3,407.0 706.8,406.6 707.2,406.5 707.7,406.8 708.2,406.9 708.6,406.9 709.1,406.1 709.6,406.8 710.1,407.8 710.5,407.0 711.0,405.7 711.5,405.6 711.9,407.2 712.4,406.8 712.9,406.4 713.3,406.2 713.8,406.3 714.3,406.9 714.7,406.2 715.2,405.2 715.7,405.5 716.2,406.2 716.6,407.1 717.0,407.5 717.6,405.6 718.0,405.1 718.5,406.6 719.0,406.1 719.4,405.6 719.9,405.8 720.4,406.1 720.8,406.2 721.3,405.4 721.8,405.0 722.3,405.0 722.7,404.3 723.2,404.8 723.7,405.1 724.1,405.1 724.6,406.2 725.1,405.9 725.5,404.9 726.0,404.4 726.5,405.1 726.9,404.8 727.4,404.4 727.9,405.0 728.4,405.1 728.8,404.3 729.3,403.4 729.8,403.2 730.2,404.2 730.7,404.8 731.2,404.5 731.6,404.3 732.1,404.0 732.6,404.4 733.1,404.9 733.5,404.4 734.0,403.9 734.5,403.4 734.9,405.3 735.4,406.5 735.9,405.4 736.3,404.3 736.8,405.1 737.3,405.0 737.7,405.6 738.2,407.0 738.7,408.4 739.2,405.8 739.6,406.5 740.1,405.6 740.6,405.2 741.0,406.1 741.5,405.9 742.0,406.0 742.4,406.2 743.0,406.8 743.4,406.9 743.8,406.5 744.3,407.6 744.8,406.7 745.3,407.4 745.7,407.2 746.2,407.0 746.7,406.9 747.1,406.5 747.6,408.2 748.1,408.0 748.5,407.4 749.0,409.2 749.5,408.5 749.9,407.5 750.4,407.3 750.9,407.8 751.4,408.9 751.8,408.6 752.3,408.1 752.8,408.2 753.2,407.1 753.7,407.5 754.2,409.2 754.6,409.9 755.1,408.9 755.6,408.2 756.0,407.8 756.5,408.8 757.0,409.7 757.5,408.6 757.9,408.6 758.4,409.3 758.9,408.8 759.3,407.9 759.8,407.6 760.3,410.2 760.7,409.0 761.2,408.3 761.7,409.2 762.1,409.0 762.6,408.4 763.1,408.4 763.6,409.3 764.0,410.0 764.5,409.5 765.0,409.1 765.4,408.6 765.9,408.6 766.4,409.4 766.8,409.1 767.3,409.7 767.8,409.5 768.2,411.1 768.7,410.1 769.2,410.1 769.7,410.4 770.1,410.5 770.6,409.2 771.1,409.5 771.5,409.9 772.0,409.7 772.5,409.5 772.9,409.0 773.4,409.4 773.9,410.1 774.3,409.9 774.8,409.5 775.3,410.3 775.8,410.3 776.2,410.2 776.7,410.3 777.2,409.6 777.6,409.5 778.1,410.6 778.6,411.0 779.0,410.8 779.5,410.9 780.0,410.7 780.4,410.2 780.9,410.5 781.4,410.2 781.9,409.9 782.3,410.6 782.8,411.1 783.3,410.7 783.7,410.3 784.2,411.0 784.7,411.1 785.1,410.4 785.6,410.4 786.1,410.8 786.5,411.2 787.0,411.4 787.5,410.6 788.0,410.3 788.4,410.3 788.9,410.6 789.4,410.6 789.8,411.2 790.3,411.5 790.8,411.0 791.2,410.8 791.7,411.1 792.2,411.7 792.6,410.9 793.1,411.1 793.6,410.8 794.1,411.0 794.4,411.8 795.0,411.8 795.5,412.0 795.9,411.5 796.4,410.9 796.9,411.1 797.3,411.1 797.8,411.2 798.3,411.3 798.7,411.1 799.2,411.2 799.7,411.6 800.2,411.1 800.6,410.6 801.1,410.6 801.6,410.9 802.0,410.9 802.5,410.8 803.0,410.7 803.4,410.2 803.9,410.5 804.4,410.7 804.8,410.6 805.3,410.4 805.8,410.2 806.3,410.4 806.7,410.4 807.2,411.2 807.7,411.1 808.1,411.0 808.6,410.5 809.1,409.6 809.5,409.9 810.0,411.0 810.5,411.2 810.9,411.0 811.4,410.9 811.9,410.9 812.4,410.9 812.8,410.2 813.3,410.0 813.8,409.9 814.2,410.2 814.7,410.5 815.2,410.4 815.6,411.0 816.1,411.0 816.6,410.5 817.0,411.9 817.5,411.0 818.0,410.8 818.5,410.2 818.9,409.9 819.4,409.9 819.9,410.1 820.3,410.1 820.8,410.3"/>
<polyline stroke="#1a1a1a" points="164.3,527.4 164.8,528.1 165.2,526.8 165.7,525.7 166.2,527.5 166.6,529.3 167.1,528.4 167.6,527.5 168.1,526.5 168.5,525.9 169.0,527.0 169.5,526.8 169.9,527.0 170.4,527.0 170.9,527.6 171.3,526.7 171.8,527.2 172.3,527.8 172.7,527.9 173.2,529.2 173.7,530.0 174.2,529.2 174.6,527.7 175.1,527.2 175.6,528.0 176.0,528.0 176.5,527.9 177.0,527.6 177.4,526.5 177.9,524.9 178.4,526.4 178.8,527.7 179.3,527.8 179.8,528.3 180.3,527.5 180.7,526.2 181.2,527.7 181.7,527.3 182.1,527.0 182.6,527.1 183.1,525.8 183.5,524.9 184.0,524.4 184.5,523.4 184.9,521.8 185.4,522.1 185.9,523.0 186.4,522.7 186.8,523.6 187.3,525.6 187.8,526.2 188.2,526.5 188.7,526.0 189.2,526.7 189.6,527.2 190.1,527.5 190.6,527.6 191.0,527.4 191.5,528.4 192.0,529.0 192.5,528.7 192.9,528.5 193.4,528.3 193.9,529.0 194.3,529.2 194.8,528.2 195.3,527.8 195.7,528.0 196.2,527.7 196.7,526.6 197.1,527.0 197.6,526.6 198.1,525.5 198.6,524.1 199.0,523.3 199.5,523.8 200.0,523.6 200.4,522.6 200.9,523.1 201.4,525.2 201.8,526.1 202.3,525.1 202.8,525.6 203.2,526.7 203.7,526.7 204.2,528.2 204.7,528.7 205.1,528.1 205.6,527.3 206.1,528.1 206.5,529.1 207.0,527.6 207.5,526.8 207.9,528.3 208.4,526.0 208.9,527.3 209.3,528.8 209.8,528.4 210.3,527.5 210.8,527.3 211.2,528.0 211.7,528.5 212.2,529.5 212.6,530.2 213.1,528.9 213.6,528.2 214.0,528.8 214.5,529.6 215.0,528.8 215.4,528.0 215.9,529.2 216.4,529.3 216.9,527.3 217.3,526.8 217.8,529.2 218.3,528.9 218.7,528.0 219.2,528.8 219.7,528.7 220.1,529.4 220.6,530.0 221.1,531.1 221.6,530.2 222.0,529.7 222.5,528.8 223.0,528.9 223.4,527.5 223.9,528.4 224.4,527.9 224.8,526.7 225.3,527.5 225.8,528.3 226.2,528.9 226.7,528.6 227.2,528.4 227.7,526.9 228.1,527.9 228.6,527.8 229.1,526.4 229.5,526.9 230.0,528.9 230.5,528.9 230.9,527.6 231.4,527.1 231.9,527.7 232.3,527.1 232.8,527.0 233.3,527.1 233.8,526.5 234.2,526.9 234.7,527.6 235.2,527.2 235.6,525.3 236.1,523.6 236.6,520.8 237.0,516.5 237.5,512.5 238.0,506.6 238.4,499.0 238.9,495.2 239.4,495.2 239.9,497.4 240.3,502.4 240.8,508.9 241.3,515.3 241.7,519.7 242.2,523.0 242.7,525.2 243.1,526.9 243.6,526.9 244.1,527.3 244.5,526.9 245.0,527.0 245.5,527.8 246.0,527.2 246.4,527.8 246.9,527.5 247.4,528.9 247.8,527.9 248.3,527.6 248.8,528.0 249.2,528.1 249.7,528.2 250.2,528.2 250.6,527.5 251.1,526.4 251.6,527.1 252.1,527.7 252.5,527.5 253.0,527.7 253.5,528.1 254.0,527.6 254.4,526.4 254.9,526.6 255.3,527.3 255.8,527.4 256.3,527.6 256.7,528.3 257.2,527.0 257.7,525.4 258.2,526.0 258.6,527.0 259.1,527.7 259.6,528.5 260.0,528.7 260.5,528.0 261.0,528.1 261.4,528.5 261.9,528.0 262.4,527.7 262.8,529.1 263.3,528.9 263.8,528.2 264.3,526.5 264.7,525.7 265.2,526.2 265.7,524.9 266.1,524.3 266.6,523.5 267.1,521.6 267.5,519.6 268.0,519.4 268.5,521.0 268.9,522.1 269.4,524.6 269.9,525.7 270.4,525.6 270.8,525.6 271.3,525.5 271.8,525.1 272.2,525.2 272.7,524.1 273.2,525.3 273.6,524.5 274.1,523.3 274.6,523.5 275.0,522.5 275.5,520.4 276.0,517.0 276.5,512.5 276.9,509.5 277.4,507.8 277.9,507.2 278.3,508.1 278.8,510.8 279.3,514.0 279.7,515.9 280.2,518.5 280.7,520.6 281.1,522.9 281.6,524.9 282.1,524.9 282.6,525.7 283.0,526.5 283.5,525.8 284.0,525.3 284.4,526.1 284.9,525.4 285.4,524.4 285.8,524.8 286.3,525.4 286.8,526.3 287.2,526.1 287.7,525.8 288.2,525.7 288.7,526.7 289.1,525.7 289.6,525.7 290.1,526.3 290.5,525.0 291.0,524.5 291.5,524.6 291.9,525.3 292.4,526.2 292.9,525.2 293.3,524.1 293.8,525.0 294.3,525.6 294.8,525.1 295.2,524.5 295.7,525.6 296.2,525.5 296.6,525.0 297.1,526.0 297.6,526.8 298.0,526.5 298.5,525.9 299.0,526.5 299.4,525.7 299.9,523.7 300.4,523.9 300.9,524.4 301.3,523.3 301.8,523.2 302.3,523.0 302.7,523.4 303.2,524.0 303.6,524.5 304.1,523.7 304.6,523.0 305.1,521.9 305.5,519.6 306.0,519.1 306.5,518.8 307.0,517.3 307.4,516.4 307.9,515.8 308.4,514.6 308.8,514.5 309.0,514.8 309.3,512.3 309.8,508.4 310.2,504.3 310.7,501.6 311.2,497.9 311.8,492.2 312.1,482.9 312.6,468.8 313.1,457.6 313.5,445.3 314.1,427.7 314.5,436.2 314.9,447.7 315.4,458.7 315.9,469.3 316.3,479.8 316.8,481.9 317.3,485.0 317.6,487.1 318.2,480.9 318.7,475.4 319.2,470.2 319.6,467.3 319.9,464.4 320.1,468.7 320.6,474.4 321.0,479.6 321.5,486.2 322.1,492.7 322.4,495.0 322.9,498.6 323.4,500.6 323.9,504.2 324.1,505.7 324.3,503.6 324.8,498.2 325.3,492.7 325.7,487.6 326.2,482.6 326.8,474.6 327.1,470.1 327.6,464.5 328.1,458.6 328.5,451.2 329.0,444.2 329.5,454.9 330.0,464.3 330.4,474.8 330.8,483.3 331.4,489.1 331.8,495.0 332.3,500.2 332.8,505.3 333.2,511.6 333.5,514.1 333.7,514.3 334.2,516.2 334.6,516.7 335.1,516.8 335.6,518.2 336.1,519.8 336.5,519.8 337.0,520.1 337.5,521.4 337.9,522.7 338.1,522.8 338.4,522.8 338.9,523.2 339.3,523.3 339.8,523.1 340.3,522.0 340.7,520.7 341.2,518.4 341.7,516.2 342.2,513.1 342.6,510.2 343.1,507.8 343.6,506.7 344.0,506.5 344.5,508.2 345.0,511.9 345.4,514.9 345.9,519.2 346.2,520.8 346.4,521.2 346.8,522.4 347.3,524.6 347.8,524.6 348.3,523.5 348.7,524.8 349.2,526.4 349.7,527.6 350.1,527.8 350.6,528.7 351.1,527.4 351.5,527.7 352.0,528.9 352.6,528.7 352.9,527.6 353.4,528.4 353.9,528.5 354.4,528.5 354.8,528.7 355.3,528.2 355.8,527.5 356.2,528.5 356.7,528.2 357.2,528.2 357.6,529.6 358.1,529.5 358.6,528.5 359.0,526.9 359.5,526.4 360.0,525.7 360.5,525.3 360.9,524.7 361.4,525.1 361.9,526.8 362.3,525.3 362.8,524.4 363.3,526.5 363.7,527.7 364.2,526.9 364.7,527.0 365.1,528.0 365.6,528.9 366.1,529.5 366.6,529.9 367.1,529.1 367.5,529.2 368.0,530.0 368.4,530.6 368.9,530.3 369.4,529.7 369.8,531.2 370.3,531.1 370.8,529.9 371.2,530.5 371.7,530.9 372.2,530.3 372.7,528.6 373.1,530.6 373.6,530.6 374.1,529.0 374.5,530.2 375.0,530.1 375.5,529.7 375.9,529.6 376.4,529.9 376.9,532.1 377.3,532.1 377.8,530.4 378.3,529.7 378.8,530.1 379.2,532.0 379.7,531.0 380.0,529.8 380.2,530.7 380.6,530.4 381.1,531.6 381.6,531.2 382.0,530.3 382.5,530.7 383.0,531.2 383.4,531.8 383.9,531.3 384.4,530.9 384.9,531.2 385.3,530.7 385.8,531.9 386.3,531.6 386.7,530.3 387.2,531.3 387.7,532.0 388.1,531.6 388.6,529.9 389.1,530.3 389.5,530.2 390.0,530.7 390.5,533.1 391.0,532.7 391.4,531.2 391.9,532.3 392.4,531.3 392.8,530.7 393.3,530.0 393.8,529.4 394.2,529.7 394.7,530.3 395.0,530.8 395.2,530.7 395.6,530.5 396.1,530.6 396.6,531.7 397.1,531.8 397.5,530.8 398.0,530.5 398.5,530.4 398.9,529.5 399.4,529.9 399.9,530.4 400.3,529.5 400.8,530.3 401.3,530.9 401.7,531.1 402.2,531.4 402.7,531.7 403.2,531.3 403.6,530.6 404.1,531.6 404.6,531.6 405.0,531.3 405.5,531.3 406.0,531.3 406.4,531.1 406.9,530.8 407.4,530.5 407.8,529.9 408.3,528.5 408.8,526.2 409.3,525.6 409.7,525.6 410.2,525.6 410.7,526.5 411.1,526.6 411.6,527.5 412.1,528.4 412.5,528.0 413.0,528.9 413.5,527.8 413.9,526.0 414.4,525.0 414.9,522.7 415.4,518.7 415.8,514.0 416.3,510.2 416.8,507.2 417.2,504.3 417.7,506.3 418.2,509.5 418.6,512.0 419.1,516.6 419.6,521.2 420.0,522.9 420.5,525.2 421.0,527.4 421.5,528.2 421.9,529.1 422.4,529.3 422.9,530.4 423.3,531.3 423.8,531.1 424.3,531.1 424.7,530.1 425.2,530.5 425.7,531.1 426.2,530.3 426.6,531.0 427.1,531.0 427.6,530.3 428.0,530.3 428.5,531.3 429.0,531.8 429.4,532.0 429.9,530.9 430.4,530.2 430.8,531.4 431.3,531.2 431.8,531.5 432.3,531.4 432.7,530.9 433.2,530.9 433.7,532.2 434.1,532.5 434.6,531.6 435.1,531.2 435.5,531.2 436.0,531.2 436.5,530.8 436.9,531.3 437.4,532.0 437.9,530.2 438.4,531.4 438.8,531.8 439.3,531.5 439.8,531.2 440.2,531.0 440.7,530.7 441.2,532.1 441.6,532.4 442.1,531.5 442.6,530.9 443.0,530.6 443.5,530.6 444.0,530.6 444.5,529.3 444.9,527.2 445.4,525.8 445.9,527.0 446.3,527.6 446.8,528.0 447.3,527.3 447.7,527.0 448.2,528.7 448.7,530.2 449.1,528.7 449.6,527.2 450.1,524.6 450.6,523.0 451.0,520.0 451.5,517.9 452.0,517.3 452.4,519.0 452.9,521.8 453.4,524.3 453.8,525.9 454.3,527.4 454.8,529.2 455.2,530.3 455.7,531.0 456.2,531.6 456.7,530.7 457.1,529.8 457.6,530.6 458.1,531.7 458.5,531.9 459.0,531.3 459.5,531.6 459.9,531.6 460.4,530.7 460.9,530.5 461.3,531.5 461.8,531.5 462.3,531.1 462.8,530.7 463.2,529.2 463.7,529.5 464.2,529.1 464.6,528.1 465.1,528.4 465.6,527.9 466.0,527.0 466.5,527.5 467.0,529.4 467.4,529.8 467.9,528.9 468.4,528.5 468.9,529.3 469.3,530.7 469.8,530.1 470.3,529.9 470.7,531.2 471.2,532.4 471.7,532.0 472.1,531.3 472.6,532.5 473.0,531.5 473.5,531.7 474.0,532.6 474.5,532.9 475.0,531.9 475.4,532.0 475.9,531.9 476.4,530.8 476.8,530.7 477.3,530.6 477.8,532.0 478.2,532.8 478.7,531.7 479.2,531.3 479.6,532.8 480.1,533.0 480.6,532.5 481.1,532.3 481.5,533.8 482.0,532.0 482.5,532.4 482.9,532.0 483.4,531.8 483.9,531.6 484.3,531.7 484.8,532.6 485.3,532.5 485.7,532.0 486.2,532.2 486.7,531.6 487.2,530.7 487.6,531.5 488.1,531.9 488.6,530.4 489.0,530.6 489.5,531.6 490.0,530.6 490.4,529.8 490.9,529.5 491.4,528.7 491.8,528.3 492.3,527.7 492.8,527.9 493.3,528.8 493.7,527.9 494.2,530.7 494.7,531.4 495.1,530.7 495.6,530.9 496.1,528.8 496.5,529.8 497.0,531.1 497.5,530.7 497.9,530.6 498.4,532.2 498.7,532.8 498.9,530.6 499.4,530.2 499.8,530.8 500.3,531.1 500.8,531.0 501.2,529.9 501.7,531.2 502.2,531.2 502.6,528.6 503.1,525.8 503.6,522.4 504.0,519.4 504.5,516.9 505.0,513.9 505.5,510.2 505.9,508.3 506.4,508.4 506.9,510.9 507.3,514.1 507.8,518.5 508.3,522.1 508.7,524.7 509.2,526.4 509.7,527.9 510.1,529.2 510.6,530.5 511.1,530.7 511.6,531.5 512.0,530.4 512.5,531.8 513.0,531.8 513.4,529.5 513.9,529.2 514.4,530.2 514.8,530.7 515.3,530.8 515.8,531.0 516.2,530.8 516.7,530.7 517.2,530.0 517.7,530.3 518.1,531.0 518.6,530.0 519.1,530.5 519.5,529.2 520.0,529.4 520.5,528.1 520.9,527.1 521.4,525.9 521.9,523.3 522.3,523.2 522.8,522.6 523.3,522.1 523.8,522.0 524.0,521.4 524.2,522.1 524.7,522.7 525.2,523.7 525.6,524.8 526.1,525.8 526.6,526.9 527.0,526.2 527.5,527.5 528.0,527.9 528.5,528.8 528.9,529.6 529.4,530.0 529.9,528.5 530.3,528.1 530.8,527.4 531.3,527.7 531.7,526.5 532.2,526.5 532.7,526.5 533.1,526.3 533.6,526.2 534.1,527.9 534.6,527.1 535.0,526.8 535.5,526.3 536.0,527.4 536.4,528.2 536.9,527.4 537.4,526.8 537.8,526.0 538.3,525.4 538.8,523.6 539.2,521.1 539.7,519.2 540.2,516.5 540.7,514.4 541.1,511.9 541.6,509.8 542.1,509.2 542.5,508.6 543.0,509.3 543.5,509.1 543.9,512.8 544.4,516.4 544.9,519.0 545.3,521.8 545.8,524.2 546.3,525.3 546.8,526.4 547.2,527.4 547.7,527.1 548.2,525.7 548.6,524.9 549.1,527.1 549.6,527.3 550.0,527.3 550.5,527.6 551.0,526.2 551.4,524.5 551.9,523.6 552.4,521.5 552.9,520.2 553.3,519.6 553.8,517.9 554.3,518.0 554.7,519.0 555.2,520.4 555.7,521.9 556.1,523.2 556.6,523.7 557.1,525.3 557.5,527.8 558.0,528.3 558.5,528.5 559.0,528.7 559.4,529.0 559.9,529.4 560.4,529.6 560.8,528.5 561.3,526.9 561.8,526.8 562.2,526.3 562.7,524.8 563.2,523.4 563.6,522.0 564.1,521.5 564.6,521.9 565.1,521.6 565.5,521.9 566.0,524.0 566.5,524.1 566.9,524.9 567.4,525.9 567.9,527.6 568.3,528.3 568.8,529.4 569.3,529.7 569.7,530.3 570.2,530.7 570.7,530.1 571.2,529.6 571.6,529.1 572.1,528.9 572.6,529.0 573.0,528.0 573.5,527.2 574.0,527.8 574.4,528.0 574.9,526.1 575.4,525.9 575.8,526.6 576.3,526.4 576.8,526.8 577.3,527.9 577.7,528.7 578.2,528.7 578.7,528.6 579.1,530.1 579.6,529.0 580.1,530.3 580.5,531.5 581.0,532.0 581.5,531.9 581.9,531.8 582.4,531.9 582.9,531.5 583.4,531.3 583.8,531.5 584.3,532.3 584.8,531.5 585.2,530.3 585.7,531.3 586.2,531.9 586.6,531.6 587.1,530.7 587.6,529.7 588.0,529.9 588.5,528.7 589.0,527.2 589.5,526.2 589.9,524.7 590.4,523.8 590.9,523.9 591.3,523.8 591.8,524.9 592.3,526.7 592.7,527.4 593.2,527.9 593.7,529.3 594.1,530.5 594.6,531.5 595.1,532.9 595.6,533.4 596.0,533.9 596.5,533.9 597.0,533.1 597.4,533.3 597.9,534.6 598.4,535.0 598.8,534.6 599.3,534.7 599.8,536.7 600.2,534.8 600.7,535.0 601.2,535.2 601.5,534.3 601.7,534.4 602.1,534.3 602.6,535.1 603.1,535.2 603.5,534.8 604.0,534.4 604.5,534.5 604.9,535.8 605.4,534.8 605.9,534.0 606.3,534.2 606.8,534.1 607.3,534.7 607.8,534.8 608.2,535.3 608.7,535.6 609.2,535.1 609.6,535.1 610.1,534.5 610.6,534.9 611.0,535.2 611.5,534.8 612.0,535.6 612.4,535.1 612.9,535.0 613.4,535.2 613.9,535.3 614.3,535.1 614.8,535.3 615.3,535.2 615.7,535.4 616.2,536.3 616.7,535.4 617.1,535.3 617.6,535.7 618.1,534.9 618.5,534.7 619.0,534.4 619.5,533.9 620.0,534.2 620.4,534.5 620.9,534.0 621.4,533.6 621.8,533.0 622.3,533.3 622.8,532.7 623.2,532.6 623.7,533.1 624.2,532.5 624.6,533.0 625.1,533.6 625.6,532.8 626.1,533.3 626.5,534.5 627.0,534.8 627.5,535.2 627.9,535.0 628.4,534.4 628.9,535.4 629.3,534.3 629.8,533.1 630.3,534.1 630.8,535.4 631.2,536.1 631.7,535.8 632.2,536.4 632.6,536.5 633.1,535.6 633.6,535.8 634.0,536.1 634.5,535.2 635.0,534.5 635.4,534.6 635.9,534.1 636.4,535.0 636.9,535.1 637.3,534.3 637.8,533.5 638.3,533.5 638.7,533.1 639.2,533.1 639.7,533.6 640.1,534.4 640.6,534.6 641.1,533.9 641.5,533.7 642.0,534.6 642.5,535.2 643.0,535.1 643.4,535.1 643.9,535.3 644.4,536.1 644.8,535.3 645.3,534.8 645.8,535.3 646.2,535.1 646.7,535.1 647.2,535.9 647.6,535.5 648.1,536.1 648.6,534.8 649.1,534.7 649.5,535.3 650.0,535.0 650.5,535.4 650.9,535.3 651.4,535.6 651.9,536.3 652.3,535.6 652.8,535.1 653.3,535.9 653.7,535.9 654.2,535.6 654.7,535.3 655.2,534.8 655.6,535.5 656.1,535.9 656.6,534.9 657.0,534.8 657.5,535.2 658.0,536.0 658.4,535.8 658.9,534.8 659.4,535.1 659.8,535.9 660.3,535.9 660.8,535.6 661.3,535.6 661.7,535.0 662.2,535.7 662.7,535.6 663.1,535.3 663.6,535.7 664.1,535.6 664.5,535.7 665.0,535.3 665.5,535.3 665.9,535.4 666.4,534.9 666.9,535.7 667.4,536.1 667.8,535.8 668.3,536.1 668.8,535.4 669.2,534.6 669.7,534.3 670.2,534.3 670.6,533.8 671.1,534.0 671.6,533.6 672.0,533.9 672.5,534.0 673.0,533.4 673.5,533.6 673.9,533.7 674.4,532.7 674.9,532.4 675.3,532.9 675.8,533.6 676.3,533.0 676.7,533.1 677.2,533.7 677.7,534.7 678.1,535.1 678.6,534.6 679.1,534.3 679.6,533.7 680.0,533.8 680.5,534.4 681.0,534.3 681.4,534.8 681.9,535.6 682.4,535.6 682.8,535.7 683.3,535.9 683.8,535.6 684.2,535.3 684.7,536.0 685.2,535.5 685.7,535.1 686.1,535.7 686.6,536.3 687.1,536.1 687.5,535.6 688.0,535.2 688.5,534.6 688.9,535.5 689.4,535.4 689.9,534.9 690.3,535.6 690.8,534.7 691.3,534.8 691.8,534.3 692.2,534.5 692.7,534.3 693.2,534.5 693.6,534.6 694.1,534.6 694.6,533.5 695.0,532.6 695.5,533.3 696.0,532.8 696.4,532.8 696.9,533.8 697.4,532.3 697.9,532.8 698.3,533.2 698.8,531.8 699.3,532.1 699.7,533.1 700.2,533.4 700.7,533.8 701.1,534.3 701.6,533.8 702.1,533.7 702.5,533.9 703.0,533.9 703.5,534.3 704.0,534.1 704.4,534.2 704.9,534.7 705.4,535.0 705.8,535.9 706.3,534.6 706.8,534.8 707.2,535.6 707.7,534.8 708.2,534.3 708.6,535.0 709.1,535.0 709.6,534.9 710.1,535.1 710.5,534.9 711.0,533.7 711.5,534.0 711.9,534.0 712.4,533.3 712.9,533.0 713.3,532.8 713.8,533.3 714.3,533.4 714.7,532.7 715.2,532.7 715.7,533.1 716.2,532.9 716.6,533.3 717.1,534.4 717.6,534.6 718.0,534.7 718.5,534.7 719.0,534.8 719.4,534.6 719.9,534.6 720.4,535.1 720.8,534.9 721.3,534.2 721.8,534.2 722.3,534.7 722.7,534.7 723.2,534.2 723.7,533.8 724.1,534.0 724.6,534.4 725.1,534.2 725.5,533.5 726.0,532.6 726.5,532.0 726.9,531.6 727.4,531.0 727.9,530.4 728.4,529.9 728.8,529.7 729.3,531.6 729.8,530.1 730.2,529.7 730.7,530.3 731.2,530.8 731.6,531.2 732.1,532.4 732.6,531.4 733.1,532.2 733.5,533.2 734.0,534.2 734.5,534.2 734.9,534.3 735.4,534.3 735.9,533.3 736.3,532.5 736.8,533.1 737.3,534.1 737.7,534.1 738.2,533.7 738.7,532.4 739.2,531.7 739.6,532.3 740.1,532.0 740.6,530.2 741.0,529.7 741.5,529.6 742.0,530.4 742.4,530.5 742.9,530.8 743.4,531.8 743.8,531.9 744.0,532.2 744.3,532.9 744.8,533.3 745.3,533.6 745.7,534.0 746.2,534.3 746.7,535.0 747.1,535.0 747.6,534.5 748.0,535.2 748.5,535.5 749.0,536.2 749.5,535.9 749.9,536.0 750.4,536.8 750.9,536.9 751.4,536.0 751.8,535.5 752.3,536.4 752.8,537.6 753.2,538.1 753.7,538.0 754.2,537.2 754.6,537.1 755.0,537.8 755.6,537.4 756.0,536.8 756.5,537.7 757.0,537.7 757.5,537.2 757.9,537.6 758.4,538.0 758.9,537.7 759.3,537.2 759.8,537.5 760.3,538.4 760.7,538.4 761.2,537.1 761.7,537.9 762.1,538.6 762.6,537.9 763.1,534.7 763.6,537.1 764.0,537.8 764.5,537.8 765.0,538.3 765.4,538.9 765.9,538.0 766.4,538.2 766.8,538.9 767.3,537.6 767.8,537.7 768.2,537.6 768.7,537.5 769.2,537.9 769.7,538.0 770.1,538.5 770.6,537.7 771.1,537.5 771.5,537.8 772.0,537.9 772.5,538.5 772.9,538.8 773.4,538.1 773.9,537.9 774.3,538.4 774.8,538.7 775.3,538.5 775.8,538.4 776.2,538.3 776.7,538.0 777.2,538.2 777.6,538.4 778.1,538.5 778.6,537.8 779.0,538.5 779.5,538.5 780.0,538.1 780.4,538.2 780.9,537.8 781.4,538.6 781.9,538.5 782.3,539.0 782.8,539.1 783.3,538.1 783.7,538.4 784.2,538.8 784.7,538.2 785.1,538.5 785.6,538.4 786.1,538.3 786.5,538.6 787.0,538.7 787.5,538.7 788.0,538.0 788.4,538.7 788.9,538.9 789.4,538.3 789.8,538.8 790.3,538.8 790.8,537.9 791.2,537.8 791.7,538.3 792.2,538.7 792.6,539.1 793.1,539.4 793.6,538.5 794.1,537.9 794.5,538.2 795.0,538.1 795.5,538.7 795.9,538.5 796.4,538.1 796.9,538.2 797.3,538.4 797.8,538.4 798.3,538.0 798.7,538.6 799.2,539.4 799.7,538.7 800.2,538.8 800.6,539.1 801.1,538.8 801.6,538.7 802.0,538.0 802.5,538.6 803.0,538.8 803.4,538.5 803.9,539.8 804.4,538.7 804.8,538.3 805.3,538.5 805.8,538.1 806.3,537.9 806.7,538.2 807.2,537.9 807.7,538.3 808.1,538.5 808.6,538.3 809.1,538.8 809.5,538.9 810.0,539.0 810.5,539.0 810.9,539.1 811.4,538.6 811.9,537.7 812.4,538.2 812.8,538.5 813.3,538.6 813.8,539.2 814.2,539.1 814.7,538.7 815.2,537.7 815.6,538.0 816.1,538.8 816.6,538.6 817.0,537.7 817.5,538.9 818.0,538.9 818.5,538.2 818.9,538.3 819.4,538.7 819.9,538.9 820.3,539.0 820.8,538.8"/>
</g>
<path d="M772 115.6H832" stroke="#f312e6" stroke-width="1" fill="none"/>
<text x="839.3" y="125.0" font-size="27" fill="#ff00e6">50d_GD3</text>
<path d="M772 214.9H832" stroke="#14807f" stroke-width="1" fill="none"/>
<text x="839.3" y="224.3" font-size="27" fill="#0a7f7f">50c_GD5</text>
<path d="M772 314.5H832" stroke="#1414d8" stroke-width="1" fill="none"/>
<text x="839.3" y="323.7" font-size="27" fill="#0000ee">50b_GD2</text>
<path d="M772 413.7H832" stroke="#e0505a" stroke-width="1" fill="none"/>
<text x="839.3" y="423.0" font-size="27" fill="#dc4810">50a_GD1</text>
<path d="M772 546.4H832" stroke="#1a1a1a" stroke-width="1" fill="none"/>
<text x="839.3" y="555.8" font-size="27" fill="#000000">50_GD4</text>
<g font-size="12">
<text transform="translate(249.9 481.7) rotate(-90)">(0,0,2)</text>
<text transform="translate(270.2 508.0) rotate(-90)">(2,0,0)</text>
<text transform="translate(284.4 493.5) rotate(-90)">(1,1,1)</text>
<text transform="translate(314.9 431.8) rotate(-90)">(2,1,1)</text>
<text transform="translate(326.1 459.6) rotate(-90)">(1,1,2)</text>
<text transform="translate(336.4 424.9) rotate(-90)">(3,0,0)</text>
<text transform="translate(349.7 500.5) rotate(-90)">(2,0,2)</text>
<text transform="translate(425.9 492.3) rotate(-90)">(3,1,0)</text>
<text transform="translate(458.6 505.9) rotate(-90)">(3,1,1)</text>
<text transform="translate(512.4 503.5) rotate(-90)">(2,0,3)</text>
<text transform="translate(528.5 511.1) rotate(-90)">(2,2,2)</text>
<text transform="translate(547.2 507.5) rotate(-90)">(2,1,3)</text>
<text transform="translate(557.2 503.5) rotate(-90)">(3,1,0)</text>
<text transform="translate(582.0 520.8) rotate(-90)">(4,0,2)</text>
<text transform="translate(600.2 511.1) rotate(-90)">(0,0,4)</text>
<text transform="translate(565.5 514.6) rotate(-78)">4,1,0</text>
</g>
</g>
<g id="panel-b" font-family="'Liberation Sans', Arial, sans-serif" fill="#19386f" stroke="#19386f" stroke-width="0.3">
<rect x="1048.5" y="13.6" width="943.6" height="619.1" fill="#fff" stroke="#d3e2f3" stroke-width="1.25"/>
<g stroke="#dde8f5" stroke-width="1.4">
<path d="M1127.5 78.3H1979"/>
<path d="M1127.5 124.3H1979"/>
<path d="M1127.5 170.4H1979"/>
<path d="M1127.5 216.4H1979"/>
<path d="M1127.5 262.5H1979"/>
<path d="M1127.5 308.6H1979"/>
<path d="M1127.5 354.6H1979"/>
<path d="M1127.5 400.6H1979"/>
<path d="M1127.5 446.7H1979"/>
<path d="M1127.5 492.8H1979"/>
<path d="M1127.5 538.8H1979"/>
</g>
<text transform="translate(1106.2 85.7) scale(0.860 1)" font-size="22" text-anchor="end">100%</text>
<text transform="translate(1106.2 131.8) scale(0.860 1)" font-size="22" text-anchor="end">90%</text>
<text transform="translate(1106.2 177.8) scale(0.860 1)" font-size="22" text-anchor="end">80%</text>
<text transform="translate(1106.2 223.8) scale(0.860 1)" font-size="22" text-anchor="end">70%</text>
<text transform="translate(1106.2 269.9) scale(0.860 1)" font-size="22" text-anchor="end">60%</text>
<text transform="translate(1106.2 315.9) scale(0.860 1)" font-size="22" text-anchor="end">50%</text>
<text transform="translate(1106.2 362.0) scale(0.860 1)" font-size="22" text-anchor="end">40%</text>
<text transform="translate(1106.2 408.0) scale(0.860 1)" font-size="22" text-anchor="end">30%</text>
<text transform="translate(1106.2 454.1) scale(0.860 1)" font-size="22" text-anchor="end">20%</text>
<text transform="translate(1106.2 500.1) scale(0.860 1)" font-size="22" text-anchor="end">10%</text>
<text transform="translate(1106.2 546.2) scale(0.860 1)" font-size="22" text-anchor="end">0%</text>
<rect x="1178.6" y="78.3" width="68.2" height="87.9" fill="url(#gr)" stroke="none"/>
<rect x="1178.6" y="166.2" width="68.2" height="372.6" fill="url(#gb)" stroke="none"/>
<text transform="translate(1212.5 129.6) scale(0.940 1)" font-size="19.5" text-anchor="middle">19</text>
<text transform="translate(1212.5 359.9) scale(0.940 1)" font-size="19.5" text-anchor="middle">80.582</text>
<text transform="translate(1212.7 577.0) scale(0.867 1)" font-size="22" text-anchor="middle">GD1</text>
<rect x="1348.8" y="78.3" width="68.2" height="83.5" fill="url(#gr)" stroke="none"/>
<rect x="1348.8" y="161.8" width="68.2" height="377.0" fill="url(#gb)" stroke="none"/>
<text transform="translate(1382.7 127.4) scale(0.940 1)" font-size="19.5" text-anchor="middle">18.1</text>
<text transform="translate(1382.7 357.7) scale(0.940 1)" font-size="19.5" text-anchor="middle">81.73</text>
<text transform="translate(1382.9 577.0) scale(0.867 1)" font-size="22" text-anchor="middle">GD2</text>
<rect x="1519.1" y="78.3" width="68.2" height="108.7" fill="url(#gr)" stroke="none"/>
<rect x="1519.1" y="187.0" width="68.2" height="351.8" fill="url(#gb)" stroke="none"/>
<text transform="translate(1553.0 140.1) scale(0.940 1)" font-size="19.5" text-anchor="middle">23.5</text>
<text transform="translate(1553.0 370.3) scale(0.940 1)" font-size="19.5" text-anchor="middle">76.05</text>
<text transform="translate(1553.2 577.0) scale(0.867 1)" font-size="22" text-anchor="middle">GD3</text>
<rect x="1689.4" y="78.3" width="68.2" height="97.3" fill="url(#gr)" stroke="none"/>
<rect x="1689.4" y="175.6" width="68.2" height="363.2" fill="url(#gb)" stroke="none"/>
<text transform="translate(1723.3 134.3) scale(0.940 1)" font-size="19.5" text-anchor="middle">21.1</text>
<text transform="translate(1723.3 364.6) scale(0.940 1)" font-size="19.5" text-anchor="middle">78.8</text>
<text transform="translate(1723.5 577.0) scale(0.867 1)" font-size="22" text-anchor="middle">GD5</text>
<rect x="1859.7" y="78.3" width="68.2" height="85.5" fill="url(#gr)" stroke="none"/>
<rect x="1859.7" y="163.8" width="68.2" height="375.0" fill="url(#gb)" stroke="none"/>
<text transform="translate(1893.6 128.5) scale(0.940 1)" font-size="19.5" text-anchor="middle">18.5</text>
<text transform="translate(1893.6 358.7) scale(0.940 1)" font-size="19.5" text-anchor="middle">81.1</text>
<text transform="translate(1893.8 577.0) scale(0.867 1)" font-size="22" text-anchor="middle">GD4</text>
<text x="1066.2" y="45" font-size="38.5" font-weight="bold" fill="#000" stroke="none" letter-spacing="0.3">b)</text>
<text transform="translate(1520.2 48.7) scale(0.817 1)" font-size="24" text-anchor="middle" font-weight="bold">XRF</text>
<rect x="1487.2" y="602.4" width="10.8" height="11.2" fill="url(#gb)" stroke="none"/>
<text transform="translate(1503.2 614.3) scale(0.760 1)" font-size="19.5" text-anchor="start">Ca</text>
<rect x="1534.3" y="602.4" width="10.8" height="11.2" fill="url(#gr)" stroke="none"/>
<text transform="translate(1550.3 614.3) scale(0.760 1)" font-size="19.5" text-anchor="start">P</text>
</g>
</svg>
</body>
</html>
